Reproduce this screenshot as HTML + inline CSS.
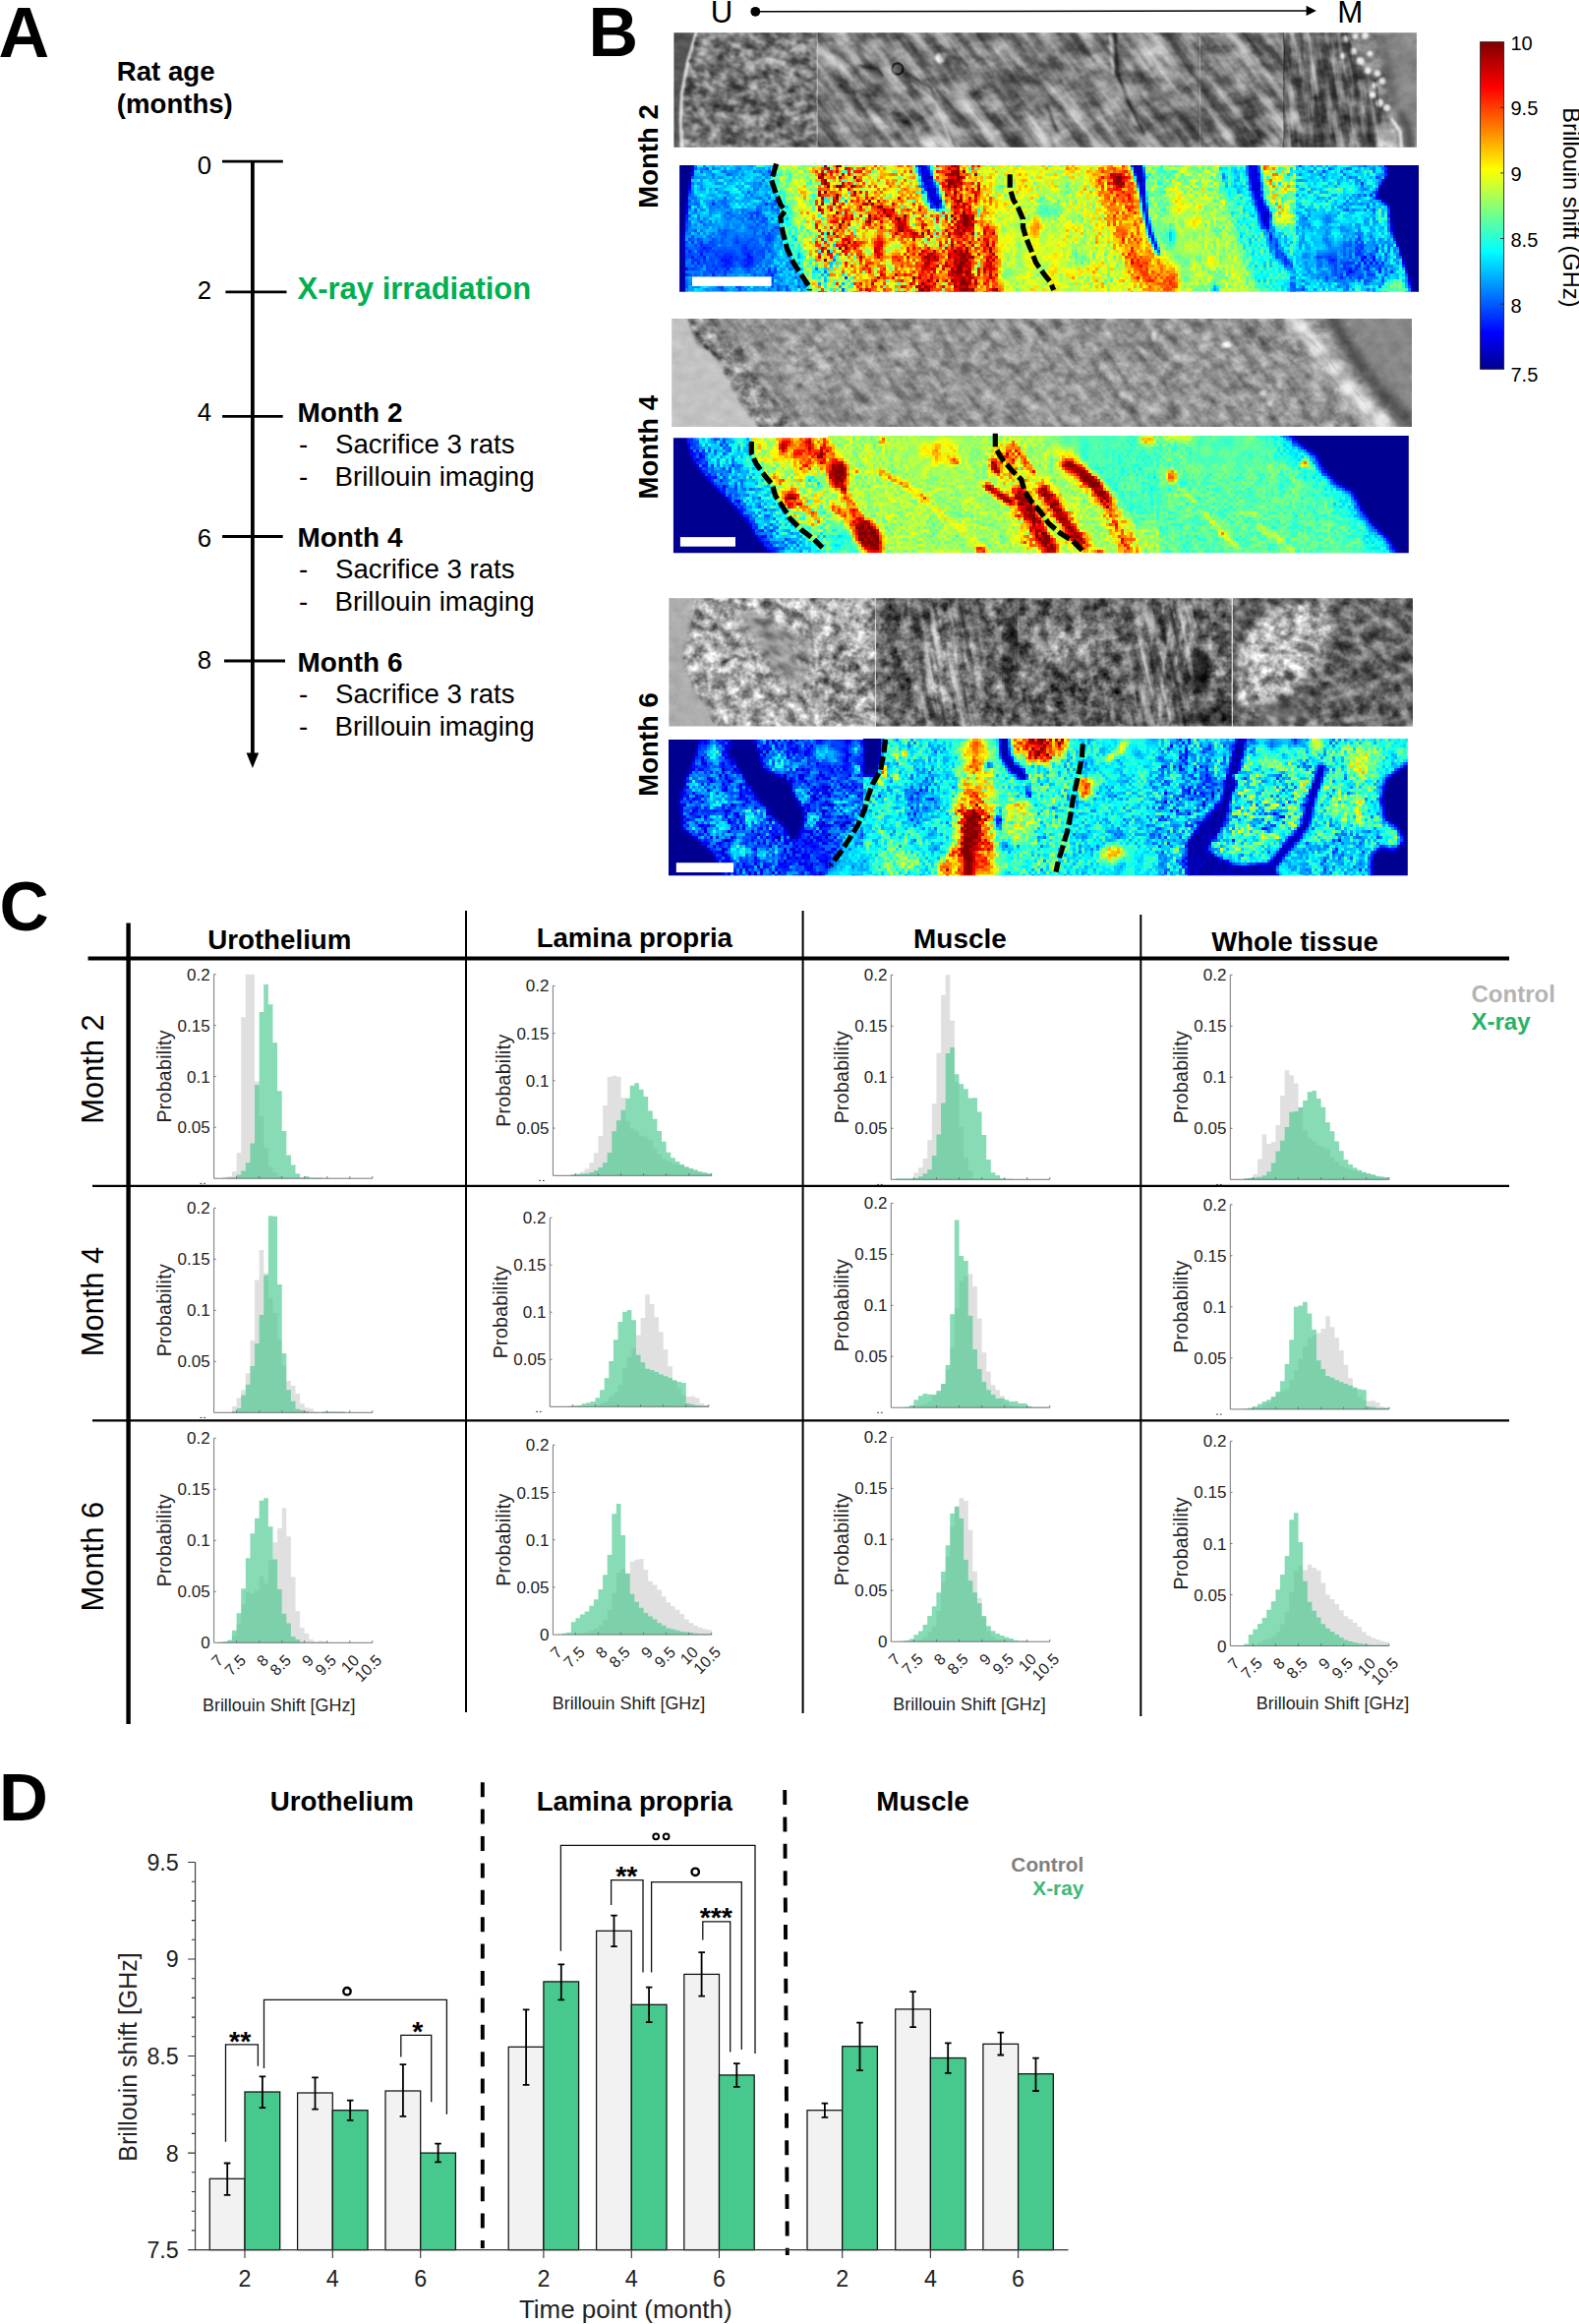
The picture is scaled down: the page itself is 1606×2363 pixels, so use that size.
<!DOCTYPE html>
<html><head><meta charset="utf-8"><title>Figure</title>
<style>html,body{margin:0;padding:0;background:#fff}svg{display:block}text{font-family:"Liberation Sans", Arial, Helvetica, sans-serif}</style>
</head><body>
<svg width="1606" height="2363" viewBox="0 0 1606 2363">
<rect width="1606" height="2363" fill="#fff"/>
<text x="-1.5" y="57.5" font-size="71.5" font-weight="bold">A</text>
<text x="598.5" y="57.3" font-size="70" font-weight="bold">B</text>
<text x="-0.5" y="945.7" font-size="69.5" font-weight="bold">C</text>
<text x="-1.0" y="1851.0" font-size="69" font-weight="bold">D</text>
<text x="118.8" y="82.0" font-size="27.6" font-weight="bold">Rat age</text>
<text x="118.8" y="115.0" font-size="27.6" font-weight="bold">(months)</text>
<line x1="256.9" y1="163.0" x2="256.9" y2="770.0" stroke="#000" stroke-width="3.8"/>
<path d="M250.6 765.5 L263.2 765.5 L256.9 781 Z" fill="#000"/>
<line x1="226.0" y1="164.2" x2="287.8" y2="164.2" stroke="#000" stroke-width="2.8"/>
<text x="215.2" y="176.7" font-size="25.8" text-anchor="end">0</text>
<line x1="229.4" y1="296.9" x2="291.5" y2="296.9" stroke="#000" stroke-width="2.8"/>
<text x="215.2" y="303.7" font-size="25.8" text-anchor="end">2</text>
<line x1="226.1" y1="423.3" x2="287.7" y2="423.3" stroke="#000" stroke-width="2.8"/>
<text x="215.2" y="428.4" font-size="25.8" text-anchor="end">4</text>
<line x1="226.1" y1="545.5" x2="287.7" y2="545.5" stroke="#000" stroke-width="2.8"/>
<text x="215.2" y="555.7" font-size="25.8" text-anchor="end">6</text>
<line x1="228.0" y1="672.0" x2="290.0" y2="672.0" stroke="#000" stroke-width="2.8"/>
<text x="215.2" y="679.7" font-size="25.8" text-anchor="end">8</text>
<text x="302.5" y="304.0" font-size="31.0" font-weight="bold" fill="#00b050">X-ray irradiation</text>
<text x="302.5" y="428.6" font-size="27.9" font-weight="bold">Month 2</text>
<text x="304.0" y="461.2" font-size="27.6">-</text>
<text x="341.0" y="461.2" font-size="27.6">Sacrifice 3 rats</text>
<text x="304.0" y="494.2" font-size="27.6">-</text>
<text x="340.5" y="494.2" font-size="27.7">Brillouin imaging</text>
<text x="302.5" y="555.6" font-size="27.9" font-weight="bold">Month 4</text>
<text x="304.0" y="588.2" font-size="27.6">-</text>
<text x="341.0" y="588.2" font-size="27.6">Sacrifice 3 rats</text>
<text x="304.0" y="621.2" font-size="27.6">-</text>
<text x="340.5" y="621.2" font-size="27.7">Brillouin imaging</text>
<text x="302.5" y="682.8" font-size="27.9" font-weight="bold">Month 6</text>
<text x="304.0" y="715.4" font-size="27.6">-</text>
<text x="341.0" y="715.4" font-size="27.6">Sacrifice 3 rats</text>
<text x="304.0" y="748.4" font-size="27.6">-</text>
<text x="340.5" y="748.4" font-size="27.7">Brillouin imaging</text>
<text x="722.8" y="22.8" font-size="31.2">U</text>
<text x="1360.3" y="22.8" font-size="31.2">M</text>
<circle cx="768.3" cy="11.8" r="4.9" fill="#000"/>
<line x1="768.0" y1="11.8" x2="1330.0" y2="11.0" stroke="#000" stroke-width="1.5"/>
<path d="M1328.6 5.8 L1338.9 10.9 L1328.6 16 Z" fill="#000"/>
<text transform="translate(668.5 159.0) rotate(-90)" font-size="27.5" font-weight="bold" text-anchor="middle">Month 2</text>
<text transform="translate(668.5 454.7) rotate(-90)" font-size="27.5" font-weight="bold" text-anchor="middle">Month 4</text>
<text transform="translate(668.5 757.0) rotate(-90)" font-size="27.5" font-weight="bold" text-anchor="middle">Month 6</text>
<defs><linearGradient id="jet" x1="0" y1="1" x2="0" y2="0"><stop offset="0" stop-color="#00008f"/><stop offset="0.11" stop-color="#0000ff"/><stop offset="0.36" stop-color="#00ffff"/><stop offset="0.61" stop-color="#ffff00"/><stop offset="0.86" stop-color="#ff0000"/><stop offset="1" stop-color="#800000"/></linearGradient></defs>
<rect x="1505.6" y="42.7" width="24" height="332.6" fill="url(#jet)" stroke="#222" stroke-width="0.9"/>
<text x="1536.5" y="51.2" font-size="20">10</text>
<text x="1536.5" y="117.2" font-size="20">9.5</text>
<text x="1536.5" y="183.8" font-size="20">9</text>
<text x="1536.5" y="250.6" font-size="20">8.5</text>
<text x="1536.5" y="317.5" font-size="20">8</text>
<text x="1536.5" y="388.2" font-size="20">7.5</text>
<line x1="1526.0" y1="109.3" x2="1529.6" y2="109.3" stroke="#222" stroke-width="0.9"/>
<line x1="1526.0" y1="175.9" x2="1529.6" y2="175.9" stroke="#222" stroke-width="0.9"/>
<line x1="1526.0" y1="242.5" x2="1529.6" y2="242.5" stroke="#222" stroke-width="0.9"/>
<line x1="1526.0" y1="309.1" x2="1529.6" y2="309.1" stroke="#222" stroke-width="0.9"/>
<text transform="translate(1589.5 109.3) rotate(90)" font-size="23.6">Brillouin shift (GHz)</text>
<defs><filter id="fb_mg1_0" x="0" y="0" width="1" height="1" color-interpolation-filters="sRGB"><feTurbulence type="fractalNoise" baseFrequency="0.1 0.13" numOctaves="2" seed="4" result="n"/><feColorMatrix in="n" type="matrix" values="0 0 0 0 1  0 0 0 0 1  0 0 0 0 1  1.5 0 0 0 -0.75" result="w"/><feColorMatrix in="n" type="matrix" values="0 0 0 0 0  0 0 0 0 0  0 0 0 0 0  -1.5 0 0 0 0.75" result="d"/><feMerge><feMergeNode in="w"/><feMergeNode in="d"/></feMerge></filter><clipPath id="fc_mg1_0"><polygon points="709.6,29.9 831.2,29.9 831.2,153.4 694.8,153.4 693.6,99.1 699.8,62.0"/></clipPath><filter id="fb_mg1_1" x="0" y="0" width="1" height="1" color-interpolation-filters="sRGB"><feTurbulence type="fractalNoise" baseFrequency="0.014 0.075" numOctaves="3" seed="8" result="n"/><feColorMatrix in="n" type="matrix" values="0 0 0 0 1  0 0 0 0 1  0 0 0 0 1  1.8 0 0 0 -0.9" result="w"/><feColorMatrix in="n" type="matrix" values="0 0 0 0 0  0 0 0 0 0  0 0 0 0 0  -1.8 0 0 0 0.9" result="d"/><feMerge><feMergeNode in="w"/><feMergeNode in="d"/></feMerge></filter><clipPath id="fc_mg1_1"><polygon points="831.2,29.9 1075.2,29.9 1305.8,29.9 1305.8,153.4 831.2,153.4"/></clipPath><filter id="fb_mg1_2" x="0" y="0" width="1" height="1" color-interpolation-filters="sRGB"><feTurbulence type="fractalNoise" baseFrequency="0.02 0.12" numOctaves="3" seed="12" result="n"/><feColorMatrix in="n" type="matrix" values="0 0 0 0 1  0 0 0 0 1  0 0 0 0 1  1.7 0 0 0 -0.85" result="w"/><feColorMatrix in="n" type="matrix" values="0 0 0 0 0  0 0 0 0 0  0 0 0 0 0  -1.7 0 0 0 0.85" result="d"/><feMerge><feMergeNode in="w"/><feMergeNode in="d"/></feMerge></filter><clipPath id="fc_mg1_2"><polygon points="1305.8,29.9 1368.7,29.9 1381.1,62.0 1403.3,86.7 1410.7,118.9 1405.8,153.4 1305.8,153.4"/></clipPath><filter id="fb_mg2_0" x="0" y="0" width="1" height="1" color-interpolation-filters="sRGB"><feTurbulence type="fractalNoise" baseFrequency="0.03 0.11" numOctaves="3" seed="5" result="n"/><feColorMatrix in="n" type="matrix" values="0 0 0 0 1  0 0 0 0 1  0 0 0 0 1  0.75 0 0 0 -0.375" result="w"/><feColorMatrix in="n" type="matrix" values="0 0 0 0 0  0 0 0 0 0  0 0 0 0 0  -0.75 0 0 0 0.375" result="d"/><feMerge><feMergeNode in="w"/><feMergeNode in="d"/></feMerge></filter><clipPath id="fc_mg2_0"><polygon points="698.5,321.2 1314.3,321.2 1413.1,437.3 773.8,437.3 756.5,413.8 741.7,389.1 729.3,364.4 707.1,347.1"/></clipPath><filter id="fb_mg3_0" x="0" y="0" width="1" height="1" color-interpolation-filters="sRGB"><feTurbulence type="fractalNoise" baseFrequency="0.07 0.1" numOctaves="2" seed="6" result="n"/><feColorMatrix in="n" type="matrix" values="0 0 0 0 1  0 0 0 0 1  0 0 0 0 1  1.1 0 0 0 -0.55" result="w"/><feColorMatrix in="n" type="matrix" values="0 0 0 0 0  0 0 0 0 0  0 0 0 0 0  -1.1 0 0 0 0.55" result="d"/><feMerge><feMergeNode in="w"/><feMergeNode in="d"/></feMerge></filter><clipPath id="fc_mg3_0"><polygon points="709.6,604.9 890.4,604.9 890.4,742.0 729.3,742.0 704.6,698.8 694.8,669.2 702.2,637.0"/></clipPath><filter id="fb_mg3_1" x="0" y="0" width="1" height="1" color-interpolation-filters="sRGB"><feTurbulence type="fractalNoise" baseFrequency="0.03 0.085" numOctaves="3" seed="7" result="n"/><feColorMatrix in="n" type="matrix" values="0 0 0 0 1  0 0 0 0 1  0 0 0 0 1  1.0 0 0 0 -0.5" result="w"/><feColorMatrix in="n" type="matrix" values="0 0 0 0 0  0 0 0 0 0  0 0 0 0 0  -1.0 0 0 0 0.5" result="d"/><feMerge><feMergeNode in="w"/><feMergeNode in="d"/></feMerge></filter><clipPath id="fc_mg3_1"><polygon points="890.4,604.9 1253.3,604.9 1253.3,742.0 890.4,742.0"/></clipPath><filter id="fb_mg3_3" x="0" y="0" width="1" height="1" color-interpolation-filters="sRGB"><feTurbulence type="fractalNoise" baseFrequency="0.012 0.11" numOctaves="3" seed="17" result="n"/><feColorMatrix in="n" type="matrix" values="0 0 0 0 1  0 0 0 0 1  0 0 0 0 1  2.0 0 0 0 -1.0" result="w"/><feColorMatrix in="n" type="matrix" values="0 0 0 0 0  0 0 0 0 0  0 0 0 0 0  -2.0 0 0 0 1.0" result="d"/><feMerge><feMergeNode in="w"/><feMergeNode in="d"/></feMerge></filter><mask id="fc_mg3_3" maskUnits="userSpaceOnUse" x="670" y="20" width="790" height="740"><polygon points="929.4,614.8 996.1,609.9 993.6,742.0 936.8,742.0" fill="#fff" filter="url(#bl6)"/></mask><filter id="fb_mg3_4" x="0" y="0" width="1" height="1" color-interpolation-filters="sRGB"><feTurbulence type="fractalNoise" baseFrequency="0.012 0.11" numOctaves="3" seed="19" result="n"/><feColorMatrix in="n" type="matrix" values="0 0 0 0 1  0 0 0 0 1  0 0 0 0 1  2.2 0 0 0 -1.1" result="w"/><feColorMatrix in="n" type="matrix" values="0 0 0 0 0  0 0 0 0 0  0 0 0 0 0  -2.2 0 0 0 1.1" result="d"/><feMerge><feMergeNode in="w"/><feMergeNode in="d"/></feMerge></filter><mask id="fc_mg3_4" maskUnits="userSpaceOnUse" x="670" y="20" width="790" height="740"><polygon points="1153.8,619.8 1225.4,614.8 1203.2,742.0 1148.9,742.0" fill="#fff" filter="url(#bl6)"/></mask><filter id="fb_mg3_2" x="0" y="0" width="1" height="1" color-interpolation-filters="sRGB"><feTurbulence type="fractalNoise" baseFrequency="0.06 0.09" numOctaves="2" seed="9" result="n"/><feColorMatrix in="n" type="matrix" values="0 0 0 0 1  0 0 0 0 1  0 0 0 0 1  1.5 0 0 0 -0.75" result="w"/><feColorMatrix in="n" type="matrix" values="0 0 0 0 0  0 0 0 0 0  0 0 0 0 0  -1.5 0 0 0 0.75" result="d"/><feMerge><feMergeNode in="w"/><feMergeNode in="d"/></feMerge></filter><clipPath id="fc_mg3_2"><polygon points="1253.3,604.9 1440.3,604.9 1440.3,742.0 1253.3,742.0"/></clipPath><filter id="f_mg1" x="682" y="30" width="764" height="125" filterUnits="userSpaceOnUse" color-interpolation-filters="sRGB"><feGaussianBlur in="SourceGraphic" stdDeviation="0.7" result="b"/><feTurbulence type="fractalNoise" baseFrequency="0.045 0.07" numOctaves="3" seed="11"/><feColorMatrix type="matrix" values="1 0 0 0 0  1 0 0 0 0  1 0 0 0 0  0 0 0 0 1" result="n1"/><feTurbulence type="fractalNoise" baseFrequency="0.22" numOctaves="1" seed="16"/><feColorMatrix type="matrix" values="1 0 0 0 0  1 0 0 0 0  1 0 0 0 0  0 0 0 0 1" result="n2"/><feComposite in="n1" in2="n2" operator="arithmetic" k1="0" k2="1.0" k3="0.22" k4="-0.110" result="N"/><feColorMatrix in="b" type="matrix" values=".5 -.5 0 0 .25  .5 -.5 0 0 .25  .5 -.5 0 0 .25  0 0 0 0 1" result="A"/><feColorMatrix in="b" type="matrix" values="0 1 0 0 0  0 1 0 0 0  0 1 0 0 0  0 0 0 0 1" result="M"/><feComposite in="M" in2="N" operator="arithmetic" k1="1" k2="0" k3="0" k4="0" result="T1"/><feComposite in="A" in2="T1" operator="arithmetic" k1="0" k2="1" k3="1" k4="0" result="S"/><feGaussianBlur in="S" stdDeviation="0.45" result="S2"/><feColorMatrix in="S2" type="matrix" values="2 0 0 0 -.5  2 0 0 0 -.5  2 0 0 0 -.5  0 0 0 0 1"/></filter><clipPath id="c_mg1"><path d="M685.4 33.2H1440.9V149.8H685.4Z"/></clipPath><filter id="f_hm1" x="688" y="164" width="760" height="137" filterUnits="userSpaceOnUse" color-interpolation-filters="sRGB"><feGaussianBlur in="SourceGraphic" stdDeviation="0.8" result="b"/><feTurbulence type="fractalNoise" baseFrequency="0.34" numOctaves="1" seed="3"/><feColorMatrix type="matrix" values="1 0 0 0 0  1 0 0 0 0  1 0 0 0 0  0 0 0 0 1" result="n1"/><feTurbulence type="fractalNoise" baseFrequency="0.09 0.07" numOctaves="2" seed="10"/><feColorMatrix type="matrix" values="1 0 0 0 0  1 0 0 0 0  1 0 0 0 0  0 0 0 0 1" result="n2"/><feComposite in="n1" in2="n2" operator="arithmetic" k1="0" k2="0.72" k3="0.42" k4="-0.07" result="N"/><feColorMatrix in="b" type="matrix" values=".5 -.7 0 0 .25  .5 -.7 0 0 .25  .5 -.7 0 0 .25  0 0 0 0 1" result="A"/><feColorMatrix in="b" type="matrix" values="0 1 0 0 0  0 1 0 0 0  0 1 0 0 0  0 0 0 0 1" result="M"/><feComposite in="M" in2="N" operator="arithmetic" k1="1.4" k2="0" k3="0" k4="0" result="T1"/><feComposite in="A" in2="T1" operator="arithmetic" k1="0" k2="1" k3="1" k4="0" result="S"/><feFlood x="689" y="165" width="1" height="1" flood-color="#000" result="dot"/><feComposite in="dot" in2="dot" operator="over" x="688" y="164" width="3" height="3" result="tile"/><feTile in="tile" result="grid"/><feComposite in="S" in2="grid" operator="in" result="samp"/><feMorphology in="samp" operator="dilate" radius="1" result="pix"/><feComponentTransfer in="pix"><feFuncR type="table" tableValues="0 0 0 0 0 0 0 0 .5 1 1 1 .5 .5 .5 .5 .5"/><feFuncG type="table" tableValues="0 0 0 0 0 0 .5 1 1 1 .5 0 0 0 0 0 0"/><feFuncB type="table" tableValues=".56 .56 .56 .56 .56 1 1 1 .5 0 0 0 0 0 0 0 0"/></feComponentTransfer></filter><clipPath id="c_hm1"><path d="M691.1 167.9H1443V296.7H691.1Z"/></clipPath><filter id="f_mg2" x="680" y="321" width="761" height="118" filterUnits="userSpaceOnUse" color-interpolation-filters="sRGB"><feGaussianBlur in="SourceGraphic" stdDeviation="0.7" result="b"/><feTurbulence type="fractalNoise" baseFrequency="0.075 0.095" numOctaves="3" seed="21"/><feColorMatrix type="matrix" values="1 0 0 0 0  1 0 0 0 0  1 0 0 0 0  0 0 0 0 1" result="n1"/><feTurbulence type="fractalNoise" baseFrequency="0.25" numOctaves="1" seed="26"/><feColorMatrix type="matrix" values="1 0 0 0 0  1 0 0 0 0  1 0 0 0 0  0 0 0 0 1" result="n2"/><feComposite in="n1" in2="n2" operator="arithmetic" k1="0" k2="1.0" k3="0.25" k4="-0.125" result="N"/><feColorMatrix in="b" type="matrix" values=".5 -.5 0 0 .25  .5 -.5 0 0 .25  .5 -.5 0 0 .25  0 0 0 0 1" result="A"/><feColorMatrix in="b" type="matrix" values="0 1 0 0 0  0 1 0 0 0  0 1 0 0 0  0 0 0 0 1" result="M"/><feComposite in="M" in2="N" operator="arithmetic" k1="1" k2="0" k3="0" k4="0" result="T1"/><feComposite in="A" in2="T1" operator="arithmetic" k1="0" k2="1" k3="1" k4="0" result="S"/><feGaussianBlur in="S" stdDeviation="0.45" result="S2"/><feColorMatrix in="S2" type="matrix" values="2 0 0 0 -.5  2 0 0 0 -.5  2 0 0 0 -.5  0 0 0 0 1"/></filter><clipPath id="c_mg2"><path d="M683.2 324H1436V434H683.2Z"/></clipPath><filter id="f_hm2" x="681" y="439" width="756" height="128" filterUnits="userSpaceOnUse" color-interpolation-filters="sRGB"><feGaussianBlur in="SourceGraphic" stdDeviation="0.8" result="b"/><feTurbulence type="fractalNoise" baseFrequency="0.34" numOctaves="1" seed="5"/><feColorMatrix type="matrix" values="1 0 0 0 0  1 0 0 0 0  1 0 0 0 0  0 0 0 0 1" result="n1"/><feTurbulence type="fractalNoise" baseFrequency="0.09 0.07" numOctaves="2" seed="12"/><feColorMatrix type="matrix" values="1 0 0 0 0  1 0 0 0 0  1 0 0 0 0  0 0 0 0 1" result="n2"/><feComposite in="n1" in2="n2" operator="arithmetic" k1="0" k2="0.72" k3="0.42" k4="-0.07" result="N"/><feColorMatrix in="b" type="matrix" values=".5 -.7 0 0 .25  .5 -.7 0 0 .25  .5 -.7 0 0 .25  0 0 0 0 1" result="A"/><feColorMatrix in="b" type="matrix" values="0 1 0 0 0  0 1 0 0 0  0 1 0 0 0  0 0 0 0 1" result="M"/><feComposite in="M" in2="N" operator="arithmetic" k1="1.4" k2="0" k3="0" k4="0" result="T1"/><feComposite in="A" in2="T1" operator="arithmetic" k1="0" k2="1" k3="1" k4="0" result="S"/><feFlood x="682" y="440" width="1" height="1" flood-color="#000" result="dot"/><feComposite in="dot" in2="dot" operator="over" x="681" y="439" width="3" height="3" result="tile"/><feTile in="tile" result="grid"/><feComposite in="S" in2="grid" operator="in" result="samp"/><feMorphology in="samp" operator="dilate" radius="1" result="pix"/><feComponentTransfer in="pix"><feFuncR type="table" tableValues="0 0 0 0 0 0 0 0 .5 1 1 1 .5 .5 .5 .5 .5"/><feFuncG type="table" tableValues="0 0 0 0 0 0 .5 1 1 1 .5 0 0 0 0 0 0"/><feFuncB type="table" tableValues=".56 .56 .56 .56 .56 1 1 1 .5 0 0 0 0 0 0 0 0"/></feComponentTransfer></filter><clipPath id="c_hm2"><path d="M684.9 445.2H842.2V442.9H1432.8V562.3H684.9Z"/></clipPath><filter id="f_mg3" x="677" y="605" width="765" height="139" filterUnits="userSpaceOnUse" color-interpolation-filters="sRGB"><feGaussianBlur in="SourceGraphic" stdDeviation="0.7" result="b"/><feTurbulence type="fractalNoise" baseFrequency="0.085 0.095" numOctaves="3" seed="31"/><feColorMatrix type="matrix" values="1 0 0 0 0  1 0 0 0 0  1 0 0 0 0  0 0 0 0 1" result="n1"/><feTurbulence type="fractalNoise" baseFrequency="0.3" numOctaves="1" seed="36"/><feColorMatrix type="matrix" values="1 0 0 0 0  1 0 0 0 0  1 0 0 0 0  0 0 0 0 1" result="n2"/><feComposite in="n1" in2="n2" operator="arithmetic" k1="0" k2="1.0" k3="0.3" k4="-0.150" result="N"/><feColorMatrix in="b" type="matrix" values=".5 -.5 0 0 .25  .5 -.5 0 0 .25  .5 -.5 0 0 .25  0 0 0 0 1" result="A"/><feColorMatrix in="b" type="matrix" values="0 1 0 0 0  0 1 0 0 0  0 1 0 0 0  0 0 0 0 1" result="M"/><feComposite in="M" in2="N" operator="arithmetic" k1="1" k2="0" k3="0" k4="0" result="T1"/><feComposite in="A" in2="T1" operator="arithmetic" k1="0" k2="1" k3="1" k4="0" result="S"/><feGaussianBlur in="S" stdDeviation="0.45" result="S2"/><feColorMatrix in="S2" type="matrix" values="2 0 0 0 -.5  2 0 0 0 -.5  2 0 0 0 -.5  0 0 0 0 1"/></filter><clipPath id="c_mg3"><path d="M680.4 608.2H1437V738.4H680.4Z"/></clipPath><filter id="f_hm3" x="677" y="748" width="760" height="148" filterUnits="userSpaceOnUse" color-interpolation-filters="sRGB"><feGaussianBlur in="SourceGraphic" stdDeviation="0.8" result="b"/><feTurbulence type="fractalNoise" baseFrequency="0.34" numOctaves="1" seed="9"/><feColorMatrix type="matrix" values="1 0 0 0 0  1 0 0 0 0  1 0 0 0 0  0 0 0 0 1" result="n1"/><feTurbulence type="fractalNoise" baseFrequency="0.09 0.07" numOctaves="2" seed="16"/><feColorMatrix type="matrix" values="1 0 0 0 0  1 0 0 0 0  1 0 0 0 0  0 0 0 0 1" result="n2"/><feComposite in="n1" in2="n2" operator="arithmetic" k1="0" k2="0.72" k3="0.42" k4="-0.07" result="N"/><feColorMatrix in="b" type="matrix" values=".5 -.7 0 0 .25  .5 -.7 0 0 .25  .5 -.7 0 0 .25  0 0 0 0 1" result="A"/><feColorMatrix in="b" type="matrix" values="0 1 0 0 0  0 1 0 0 0  0 1 0 0 0  0 0 0 0 1" result="M"/><feComposite in="M" in2="N" operator="arithmetic" k1="1.4" k2="0" k3="0" k4="0" result="T1"/><feComposite in="A" in2="T1" operator="arithmetic" k1="0" k2="1" k3="1" k4="0" result="S"/><feFlood x="678" y="749" width="1" height="1" flood-color="#000" result="dot"/><feComposite in="dot" in2="dot" operator="over" x="677" y="748" width="3" height="3" result="tile"/><feTile in="tile" result="grid"/><feComposite in="S" in2="grid" operator="in" result="samp"/><feMorphology in="samp" operator="dilate" radius="1" result="pix"/><feComponentTransfer in="pix"><feFuncR type="table" tableValues="0 0 0 0 0 0 0 0 .5 1 1 1 .5 .5 .5 .5 .5"/><feFuncG type="table" tableValues="0 0 0 0 0 0 .5 1 1 1 .5 0 0 0 0 0 0"/><feFuncB type="table" tableValues=".56 .56 .56 .56 .56 1 1 1 .5 0 0 0 0 0 0 0 0"/></feComponentTransfer></filter><clipPath id="c_hm3"><path d="M680 751.9H877.9V751H1431.8V890.3H680Z"/></clipPath><filter id="bl0_8" x="-50%" y="-50%" width="200%" height="200%" color-interpolation-filters="sRGB"><feGaussianBlur stdDeviation="0.8"/></filter><filter id="bl1" x="-50%" y="-50%" width="200%" height="200%" color-interpolation-filters="sRGB"><feGaussianBlur stdDeviation="1"/></filter><filter id="bl1_2" x="-50%" y="-50%" width="200%" height="200%" color-interpolation-filters="sRGB"><feGaussianBlur stdDeviation="1.2"/></filter><filter id="bl1_5" x="-50%" y="-50%" width="200%" height="200%" color-interpolation-filters="sRGB"><feGaussianBlur stdDeviation="1.5"/></filter><filter id="bl2" x="-50%" y="-50%" width="200%" height="200%" color-interpolation-filters="sRGB"><feGaussianBlur stdDeviation="2"/></filter><filter id="bl2_5" x="-50%" y="-50%" width="200%" height="200%" color-interpolation-filters="sRGB"><feGaussianBlur stdDeviation="2.5"/></filter><filter id="bl3" x="-50%" y="-50%" width="200%" height="200%" color-interpolation-filters="sRGB"><feGaussianBlur stdDeviation="3"/></filter><filter id="bl4" x="-50%" y="-50%" width="200%" height="200%" color-interpolation-filters="sRGB"><feGaussianBlur stdDeviation="4"/></filter><filter id="bl5" x="-50%" y="-50%" width="200%" height="200%" color-interpolation-filters="sRGB"><feGaussianBlur stdDeviation="5"/></filter><filter id="bl6" x="-50%" y="-50%" width="200%" height="200%" color-interpolation-filters="sRGB"><feGaussianBlur stdDeviation="6"/></filter><filter id="bl7" x="-50%" y="-50%" width="200%" height="200%" color-interpolation-filters="sRGB"><feGaussianBlur stdDeviation="7"/></filter><filter id="bl8" x="-50%" y="-50%" width="200%" height="200%" color-interpolation-filters="sRGB"><feGaussianBlur stdDeviation="8"/></filter><filter id="bl10" x="-50%" y="-50%" width="200%" height="200%" color-interpolation-filters="sRGB"><feGaussianBlur stdDeviation="10"/></filter></defs><g clip-path="url(#c_mg1)"><g filter="url(#f_mg1)"><rect x="675.0" y="25.0" width="775.0" height="135.0" fill="rgb(124,71,0)"/><polygon points="707.2,29.9 831.2,29.9 831.2,153.4 692.3,153.4 692.3,99.1 698.5,62.0" fill="rgb(118,76,0)"/><ellipse cx="803.5" cy="62.0" rx="22" ry="22" fill="rgb(134,76,0)" filter="url(#bl8)"/><ellipse cx="741.7" cy="99.1" rx="25" ry="20" fill="rgb(106,76,0)" filter="url(#bl8)"/><polygon points="831.2,29.9 1075.2,29.9 1075.2,153.4 831.2,153.4" fill="rgb(125,71,0)"/><ellipse cx="867.7" cy="49.7" rx="35" ry="15" fill="rgb(150,71,0)" filter="url(#bl8)"/><polyline points="852.9,86.7 902.3,106.5 939.3,131.2" fill="none" stroke="rgb(82,102,0)" stroke-width="10" stroke-linecap="round" stroke-linejoin="round" filter="url(#bl4)"/><polyline points="865.2,111.4 914.6,136.1" fill="none" stroke="rgb(168,102,0)" stroke-width="8" stroke-linecap="round" stroke-linejoin="round" filter="url(#bl4)"/><polyline points="976.4,49.7 1001.1,99.1 1025.8,143.6" fill="none" stroke="rgb(105,102,0)" stroke-width="12" stroke-linecap="round" stroke-linejoin="round" filter="url(#bl5)"/><ellipse cx="1013.4" cy="86.7" rx="30" ry="25" fill="rgb(118,76,0)" filter="url(#bl8)"/><polyline points="872.7,67.0 892.4,69.5 897.4,76.9" fill="none" stroke="rgb(50,26,0)" stroke-width="2.5" stroke-linecap="round" stroke-linejoin="round" filter="url(#bl1)"/><polyline points="922.1,74.4 946.8,89.2 959.1,123.8 971.5,148.5" fill="none" stroke="rgb(60,26,0)" stroke-width="2.2" stroke-linecap="round" stroke-linejoin="round" filter="url(#bl1)"/><polyline points="927.0,84.3 951.7,104.0 966.5,143.6" fill="none" stroke="rgb(190,26,0)" stroke-width="2" stroke-linecap="round" stroke-linejoin="round" filter="url(#bl1)"/><ellipse cx="948.0" cy="143.6" rx="10" ry="8" fill="rgb(220,51,0)" filter="url(#bl3)"/><circle cx="912.9" cy="70.0" r="5.6" fill="rgb(112,26,0)" stroke="rgb(35,26,0)" stroke-width="2.2"/><ellipse cx="956.6" cy="58.8" rx="5.2" ry="5.2" fill="rgb(250,13,0)" filter="url(#bl1)"/><polyline points="831.2,29.9 831.2,153.4" fill="none" stroke="rgb(195,26,0)" stroke-width="1" stroke-linecap="round" stroke-linejoin="round"/><polyline points="1220.5,29.9 1220.5,153.4" fill="none" stroke="rgb(165,26,0)" stroke-width="1" stroke-linecap="round" stroke-linejoin="round"/><polyline points="1134.1,33.2 1136.6,74.4 1148.9,106.5 1163.7,136.1" fill="none" stroke="rgb(48,38,0)" stroke-width="3" stroke-linecap="round" stroke-linejoin="round" filter="url(#bl1)"/><polyline points="1129.2,34.9 1132.1,74.4" fill="none" stroke="rgb(195,38,0)" stroke-width="3" stroke-linecap="round" stroke-linejoin="round" filter="url(#bl1_2)"/><polyline points="1064.9,106.5 1074.8,133.7" fill="none" stroke="rgb(55,38,0)" stroke-width="3" stroke-linecap="round" stroke-linejoin="round" filter="url(#bl1_2)"/><ellipse cx="1269.9" cy="123.8" rx="22" ry="26" fill="rgb(84,76,0)" filter="url(#bl8)"/><ellipse cx="1178.6" cy="54.6" rx="20" ry="14" fill="rgb(145,76,0)" filter="url(#bl6)"/><polygon points="1305.8,29.9 1368.7,29.9 1381.1,62.0 1403.3,86.7 1410.7,118.9 1405.8,153.4 1305.8,153.4" fill="rgb(100,76,0)"/><ellipse cx="1351.5" cy="106.5" rx="22" ry="26" fill="rgb(72,76,0)" filter="url(#bl8)"/><ellipse cx="1344.0" cy="143.6" rx="16" ry="8" fill="rgb(58,76,0)" filter="url(#bl5)"/><ellipse cx="1326.8" cy="54.6" rx="18" ry="14" fill="rgb(112,76,0)" filter="url(#bl6)"/><polyline points="1305.8,29.9 1305.8,153.4" fill="none" stroke="rgb(60,26,0)" stroke-width="1" stroke-linecap="round" stroke-linejoin="round"/><polygon points="1398.4,29.9 1445.3,29.9 1445.3,153.4 1425.5,153.4 1420.6,123.8 1415.7,106.5 1410.7,74.4 1405.8,49.7" fill="rgb(133,26,0)" filter="url(#bl2_5)"/><polyline points="1405.8,39.8 1413.2,74.4 1418.1,106.5" fill="none" stroke="rgb(98,26,0)" stroke-width="5" stroke-linecap="round" stroke-linejoin="round" filter="url(#bl3)"/><ellipse cx="1368.7" cy="39.8" rx="3.5" ry="3.5" fill="rgb(238,26,0)" filter="url(#bl1)"/><ellipse cx="1378.6" cy="36.9" rx="3" ry="3" fill="rgb(238,26,0)" filter="url(#bl1)"/><ellipse cx="1388.5" cy="36.1" rx="3.5" ry="3.5" fill="rgb(238,26,0)" filter="url(#bl1)"/><ellipse cx="1376.2" cy="52.2" rx="3.5" ry="3.5" fill="rgb(238,26,0)" filter="url(#bl1)"/><ellipse cx="1383.6" cy="62.0" rx="4" ry="4" fill="rgb(238,26,0)" filter="url(#bl1)"/><ellipse cx="1391.0" cy="71.9" rx="3.5" ry="3.5" fill="rgb(238,26,0)" filter="url(#bl1)"/><ellipse cx="1400.9" cy="74.4" rx="3.5" ry="3.5" fill="rgb(238,26,0)" filter="url(#bl1)"/><ellipse cx="1398.4" cy="86.7" rx="3" ry="3" fill="rgb(238,26,0)" filter="url(#bl1)"/><ellipse cx="1405.8" cy="82.3" rx="3.5" ry="3.5" fill="rgb(238,26,0)" filter="url(#bl1)"/><ellipse cx="1395.9" cy="96.6" rx="3" ry="3" fill="rgb(238,26,0)" filter="url(#bl1)"/><ellipse cx="1403.3" cy="104.5" rx="4" ry="4" fill="rgb(238,26,0)" filter="url(#bl1)"/><ellipse cx="1410.7" cy="109.5" rx="3.5" ry="3.5" fill="rgb(238,26,0)" filter="url(#bl1)"/><ellipse cx="1366.3" cy="57.1" rx="3" ry="3" fill="rgb(238,26,0)" filter="url(#bl1)"/><ellipse cx="1393.4" cy="54.6" rx="3" ry="3" fill="rgb(238,26,0)" filter="url(#bl1)"/><ellipse cx="1413.2" cy="136.1" rx="14" ry="18" fill="rgb(150,76,0)" filter="url(#bl3)"/><polyline points="1415.7,121.3 1424.3,133.7 1425.5,149.7" fill="none" stroke="rgb(242,13,0)" stroke-width="3" stroke-linecap="round" stroke-linejoin="round" filter="url(#bl1)"/><polyline points="1425.5,116.4 1433.0,133.7 1434.2,151.0" fill="none" stroke="rgb(60,13,0)" stroke-width="6" stroke-linecap="round" stroke-linejoin="round" filter="url(#bl3)"/><polygon points="682.5,29.9 707.2,29.9 698.5,62.0 692.3,99.1 691.1,153.4 682.5,153.4" fill="rgb(86,31,0)" filter="url(#bl1)"/><polyline points="708.4,33.2 699.8,62.0 693.6,94.2 692.3,123.8 693.6,149.7" fill="none" stroke="rgb(245,13,0)" stroke-width="2.6" stroke-linecap="round" stroke-linejoin="round" filter="url(#bl0_8)"/></g><g clip-path="url(#fc_mg1_0)"><rect x="673" y="-2" width="186" height="186" transform="rotate(20 766 92)" filter="url(#fb_mg1_0)"/></g><g clip-path="url(#fc_mg1_1)"><rect x="819" y="-158" width="499" height="499" transform="rotate(52 1068 92)" filter="url(#fb_mg1_1)"/></g><g clip-path="url(#fc_mg1_2)"><rect x="1275" y="8" width="167" height="167" transform="rotate(82 1358 92)" filter="url(#fb_mg1_2)"/></g></g><g clip-path="url(#c_hm1)"><g filter="url(#f_hm1)"><rect x="680.0" y="160.0" width="775.0" height="145.0" fill="rgb(143,36,0)"/><polygon points="689.1,166.6 789.6,166.6 784.6,183.1 787.9,192.9 793.7,207.8 798.6,214.3 793.7,220.9 795.7,234.1 800.3,252.2 806.9,267.0 816.7,281.9 823.3,291.7 824.1,299.1 689.1,299.1" fill="rgb(71,46,0)" filter="url(#bl1_5)"/><ellipse cx="739.3" cy="188.0" rx="38" ry="14" fill="rgb(82,36,0)" filter="url(#bl7)"/><ellipse cx="734.4" cy="262.1" rx="42" ry="20" fill="rgb(49,36,0)" filter="url(#bl8)"/><ellipse cx="770.6" cy="242.3" rx="12" ry="22" fill="rgb(51,36,0)" filter="url(#bl6)"/><polygon points="824.1,299.1 823.3,291.7 816.7,281.9 806.9,267.0 800.3,252.2 795.7,234.1 793.7,220.9 798.6,214.3 793.7,207.8 787.9,192.9 784.6,183.1 789.6,166.6 830.7,299.1 830.7,166.6" fill="rgb(102,51,0)" filter="url(#bl2)"/><polygon points="815.1,166.6 830.7,166.6 830.7,299.1 826.6,299.1 820.0,258.8 815.1,209.4" fill="rgb(148,76,0)" filter="url(#bl4)"/><ellipse cx="800.3" cy="179.8" rx="7" ry="9" fill="rgb(128,51,0)" filter="url(#bl3)"/><polygon points="830.7,164.9 948.5,164.9 948.5,300.0 830.7,300.0" fill="rgb(184,158,0)"/><polygon points="874.4,164.9 935.3,164.9 941.9,201.2 899.1,206.1 874.4,184.7" fill="rgb(165,76,0)" filter="url(#bl4)"/><ellipse cx="851.3" cy="282.7" rx="22" ry="13" fill="rgb(128,128,0)" filter="url(#bl5)"/><ellipse cx="835.7" cy="275.3" rx="6" ry="6" fill="rgb(66,51,0)" filter="url(#bl3)"/><polyline points="894.1,209.4 915.5,225.9 941.9,252.2" fill="none" stroke="rgb(250,64,0)" stroke-width="8" stroke-linecap="round" stroke-linejoin="round" filter="url(#bl2)"/><polygon points="930.3,253.9 948.5,245.6 948.5,300.0 938.6,300.0" fill="rgb(224,76,0)" filter="url(#bl3)"/><polygon points="931.7,164.9 998.1,164.9 998.1,300.0 931.7,300.0" fill="rgb(173,128,0)"/><polygon points="933.4,252.2 951.5,252.2 955.6,300.0 933.4,300.0" fill="rgb(230,76,0)" filter="url(#bl3)"/><polyline points="965.5,163.3 971.2,184.7 982.8,225.9 974.5,262.1 981.1,300.0" fill="none" stroke="rgb(214,76,0)" stroke-width="24" stroke-linecap="round" stroke-linejoin="round" filter="url(#bl3)"/><ellipse cx="969.6" cy="181.4" rx="6" ry="11" fill="rgb(255,38,0)" filter="url(#bl2_5)"/><ellipse cx="982.8" cy="225.9" rx="7" ry="11" fill="rgb(255,38,0)" filter="url(#bl2_5)"/><polygon points="966.3,250.6 986.0,250.6 990.2,300.0 969.6,300.0" fill="rgb(247,46,0)" filter="url(#bl3)"/><polyline points="937.5,163.3 943.2,184.7 953.1,207.8" fill="none" stroke="rgb(22,26,0)" stroke-width="15" stroke-linecap="round" stroke-linejoin="round" filter="url(#bl2)"/><polygon points="998.1,164.9 1198.5,164.9 1198.5,300.0 998.1,300.0" fill="rgb(148,51,0)"/><polygon points="998.1,174.8 1009.1,179.8 1012.4,229.2 998.1,229.2" fill="rgb(173,64,0)" filter="url(#bl3)"/><polygon points="998.1,225.9 1012.4,229.2 1018.2,300.0 998.1,300.0" fill="rgb(219,76,0)" filter="url(#bl2_5)"/><ellipse cx="1066.7" cy="212.7" rx="15" ry="9" fill="rgb(112,31,0)" filter="url(#bl5)"/><ellipse cx="1037.1" cy="232.5" rx="5" ry="6" fill="rgb(107,31,0)" filter="url(#bl3)"/><ellipse cx="1099.7" cy="262.1" rx="11" ry="6" fill="rgb(112,31,0)" filter="url(#bl4)"/><ellipse cx="1027.2" cy="278.6" rx="11" ry="8" fill="rgb(128,31,0)" filter="url(#bl4)"/><ellipse cx="1083.2" cy="192.9" rx="10" ry="6" fill="rgb(117,31,0)" filter="url(#bl4)"/><ellipse cx="1052.7" cy="230.8" rx="5.5" ry="12" fill="rgb(189,38,0)" filter="url(#bl2)"/><ellipse cx="1040.4" cy="181.4" rx="6" ry="8" fill="rgb(173,38,0)" filter="url(#bl3)"/><ellipse cx="1091.4" cy="169.9" rx="9" ry="4" fill="rgb(194,38,0)" filter="url(#bl2)"/><ellipse cx="1076.6" cy="262.1" rx="8" ry="5" fill="rgb(168,38,0)" filter="url(#bl3)"/><ellipse cx="1111.2" cy="275.3" rx="7" ry="5" fill="rgb(173,38,0)" filter="url(#bl3)"/><polygon points="1112.8,164.9 1149.1,164.9 1158.9,201.2 1165.5,242.3 1182.0,267.0 1198.5,275.3 1198.5,300.0 1154.0,300.0 1142.5,258.8 1124.4,225.9 1114.5,192.9" fill="rgb(190,61,0)" filter="url(#bl4)"/><ellipse cx="1137.5" cy="183.1" rx="7" ry="9" fill="rgb(255,31,0)" filter="url(#bl2)"/><ellipse cx="1149.1" cy="198.7" rx="5" ry="9" fill="rgb(224,38,0)" filter="url(#bl2)"/><ellipse cx="1160.6" cy="268.7" rx="7" ry="7" fill="rgb(209,38,0)" filter="url(#bl3)"/><polygon points="1165.5,164.9 1198.5,164.9 1198.5,258.8 1182.0,252.2 1170.5,225.9" fill="rgb(122,46,0)" filter="url(#bl3)"/><polygon points="1149.1,164.9 1163.1,164.9 1165.5,192.9 1167.2,214.3 1170.5,230.8 1178.7,252.2 1181.2,260.4 1177.1,258.8 1167.2,237.4 1162.2,214.3 1157.3,189.6" fill="rgb(8,10,0)" filter="url(#bl1)"/><polygon points="1183.4,164.9 1241.0,164.9 1250.9,300.0 1201.5,300.0 1194.9,258.8" fill="rgb(135,51,0)" filter="url(#bl4)"/><ellipse cx="1199.8" cy="206.1" rx="8" ry="14" fill="rgb(168,38,0)" filter="url(#bl4)"/><ellipse cx="1214.6" cy="225.9" rx="6" ry="7" fill="rgb(173,38,0)" filter="url(#bl3)"/><ellipse cx="1231.1" cy="267.0" rx="8" ry="6" fill="rgb(163,38,0)" filter="url(#bl3)"/><ellipse cx="1188.3" cy="290.1" rx="10" ry="12" fill="rgb(204,38,0)" filter="url(#bl3)"/><ellipse cx="1191.6" cy="239.0" rx="3" ry="8" fill="rgb(71,31,0)" filter="url(#bl2)"/><polygon points="1239.3,164.9 1270.6,164.9 1290.4,217.6 1303.6,258.8 1316.7,300.0 1277.2,300.0 1259.1,242.3 1247.6,209.4" fill="rgb(102,41,0)" filter="url(#bl4)"/><polyline points="1242.6,169.9 1247.6,192.9" fill="none" stroke="rgb(56,26,0)" stroke-width="2.5" stroke-linecap="round" stroke-linejoin="round" filter="url(#bl1)"/><polyline points="1255.8,173.2 1259.1,186.3" fill="none" stroke="rgb(56,26,0)" stroke-width="2.5" stroke-linecap="round" stroke-linejoin="round" filter="url(#bl1)"/><ellipse cx="1236.0" cy="293.4" rx="4" ry="3" fill="rgb(46,26,0)" filter="url(#bl1_5)"/><polygon points="1282.2,164.9 1317.6,164.9 1317.6,225.9 1300.3,222.6 1290.4,201.2" fill="rgb(138,97,0)" filter="url(#bl2)"/><ellipse cx="1290.4" cy="170.7" rx="7" ry="3" fill="rgb(214,76,0)" filter="url(#bl1_5)"/><ellipse cx="1306.9" cy="194.6" rx="4" ry="2.5" fill="rgb(204,76,0)" filter="url(#bl1_5)"/><polygon points="1290.4,230.8 1317.6,229.2 1317.6,300.0 1315.1,300.0 1313.4,275.3 1300.3,258.8" fill="rgb(94,64,0)" filter="url(#bl3)"/><polyline points="1288.7,230.8 1300.3,258.8 1315.1,275.3 1316.7,300.0" fill="none" stroke="rgb(51,38,0)" stroke-width="9" stroke-linecap="round" stroke-linejoin="round" filter="url(#bl2)"/><polygon points="1267.3,164.9 1281.3,164.9 1285.4,201.2 1293.7,217.6 1290.4,234.1 1283.8,232.5 1277.2,209.4 1270.6,189.6" fill="rgb(22,20,0)" filter="url(#bl1_5)"/><polygon points="1317.6,164.9 1448.5,164.9 1448.5,300.0 1317.6,300.0" fill="rgb(82,56,0)"/><ellipse cx="1374.4" cy="267.0" rx="36" ry="20" fill="rgb(53,56,0)" filter="url(#bl8)"/><ellipse cx="1349.7" cy="192.9" rx="32" ry="15" fill="rgb(94,56,0)" filter="url(#bl8)"/><ellipse cx="1418.8" cy="292.6" rx="11" ry="8" fill="rgb(128,38,0)" filter="url(#bl2)"/><polygon points="688.3,164.9 707.2,164.9 703.1,184.7 699.0,209.4 696.5,242.3 697.3,300.0 688.3,300.0" fill="rgb(0,0,0)" filter="url(#bl1)"/><polygon points="1407.3,164.9 1410.6,176.5 1400.7,192.9 1399.1,201.2 1412.2,209.4 1413.9,225.9 1415.5,239.0 1422.1,252.2 1427.1,267.0 1432.0,281.9 1435.3,300.0 1448.5,300.0 1448.5,164.9" fill="rgb(0,0,0)" filter="url(#bl1_2)"/></g></g><polyline points="789.6,166.6 784.6,183.1 787.9,192.9 793.7,207.8 798.6,214.3 793.7,220.9 795.7,234.1 800.3,252.2 806.9,267.0 816.7,281.9 823.3,291.7 823.0,295.4" fill="none" stroke="#000" stroke-width="5.2" stroke-dasharray="13.5 4" stroke-linejoin="round"/><polyline points="1027.2,177.3 1027.2,191.3 1030.5,202.8 1035.4,211.0 1040.4,222.6 1040.4,230.8 1043.7,242.3 1048.6,253.9 1053.6,267.0 1061.8,278.6 1068.4,286.8 1071.7,295.0" fill="none" stroke="#000" stroke-width="5.2" stroke-dasharray="13.5 4" stroke-linejoin="round"/><rect x="703.9" y="281.4" width="80.7" height="9.5" fill="#fff"/><g clip-path="url(#c_mg2)"><g filter="url(#f_mg2)"><rect x="675.0" y="315.0" width="770.0" height="130.0" fill="rgb(148,61,0)"/><polyline points="707.1,329.8 736.7,364.4 756.5,396.5 786.1,433.6" fill="none" stroke="rgb(134,128,0)" stroke-width="32" stroke-linecap="round" stroke-linejoin="round" filter="url(#bl4)"/><ellipse cx="751.6" cy="357.0" rx="4" ry="4" fill="rgb(72,51,0)" filter="url(#bl1_5)"/><ellipse cx="724.4" cy="337.2" rx="3" ry="3" fill="rgb(80,51,0)" filter="url(#bl1_5)"/><ellipse cx="761.4" cy="423.7" rx="3" ry="3" fill="rgb(75,51,0)" filter="url(#bl1_5)"/><ellipse cx="823.2" cy="364.4" rx="32" ry="26" fill="rgb(160,76,0)" filter="url(#bl10)"/><polyline points="867.2,322.4 867.2,436.0" fill="none" stroke="rgb(132,26,0)" stroke-width="1" stroke-linecap="round" stroke-linejoin="round"/><ellipse cx="875.1" cy="384.2" rx="6" ry="10" fill="rgb(192,51,0)" filter="url(#bl3)"/><ellipse cx="946.7" cy="371.8" rx="8" ry="5" fill="rgb(182,51,0)" filter="url(#bl3)"/><ellipse cx="922.0" cy="357.0" rx="3" ry="3" fill="rgb(205,26,0)" filter="url(#bl1_5)"/><ellipse cx="897.3" cy="354.5" rx="4" ry="4" fill="rgb(90,51,0)" filter="url(#bl2)"/><ellipse cx="1048.0" cy="386.6" rx="4" ry="4" fill="rgb(85,51,0)" filter="url(#bl2)"/><polyline points="892.4,364.4 922.0,413.8 931.9,433.6" fill="none" stroke="rgb(105,51,0)" stroke-width="2" stroke-linecap="round" stroke-linejoin="round" filter="url(#bl1_5)"/><polyline points="971.4,389.1 993.6,418.7" fill="none" stroke="rgb(185,51,0)" stroke-width="2" stroke-linecap="round" stroke-linejoin="round" filter="url(#bl1_5)"/><polyline points="1121.7,322.4 1121.7,436.0" fill="none" stroke="rgb(152,26,0)" stroke-width="1" stroke-linecap="round" stroke-linejoin="round"/><ellipse cx="1247.7" cy="350.8" rx="5" ry="3" fill="rgb(250,26,0)" filter="url(#bl1)"/><ellipse cx="1227.9" cy="342.2" rx="6" ry="5" fill="rgb(200,26,0)" filter="url(#bl2)"/><ellipse cx="1284.7" cy="400.2" rx="3" ry="3" fill="rgb(222,26,0)" filter="url(#bl1_2)"/><ellipse cx="1292.1" cy="410.1" rx="3" ry="3" fill="rgb(212,26,0)" filter="url(#bl1_2)"/><ellipse cx="1141.4" cy="401.4" rx="4" ry="4" fill="rgb(200,26,0)" filter="url(#bl1_5)"/><ellipse cx="1064.9" cy="413.8" rx="8" ry="10" fill="rgb(190,26,0)" filter="url(#bl3)"/><ellipse cx="1173.6" cy="342.2" rx="3" ry="6" fill="rgb(215,26,0)" filter="url(#bl1_2)"/><ellipse cx="1269.9" cy="339.7" rx="18" ry="10" fill="rgb(118,76,0)" filter="url(#bl5)"/><polyline points="1314.3,322.4 1339.0,352.0 1363.7,384.2 1388.4,413.8 1413.1,437.3" fill="none" stroke="rgb(208,38,0)" stroke-width="14" stroke-linecap="round" stroke-linejoin="round" filter="url(#bl4)"/><ellipse cx="1324.2" cy="332.3" rx="6" ry="6" fill="rgb(236,20,0)" filter="url(#bl2_5)"/><ellipse cx="1339.0" cy="354.5" rx="7" ry="7" fill="rgb(236,20,0)" filter="url(#bl2_5)"/><ellipse cx="1355.1" cy="374.3" rx="6" ry="6" fill="rgb(236,20,0)" filter="url(#bl2_5)"/><ellipse cx="1371.2" cy="394.0" rx="7" ry="7" fill="rgb(236,20,0)" filter="url(#bl2_5)"/><ellipse cx="1388.4" cy="412.6" rx="8" ry="8" fill="rgb(236,20,0)" filter="url(#bl2_5)"/><ellipse cx="1405.7" cy="427.4" rx="8" ry="8" fill="rgb(236,20,0)" filter="url(#bl2_5)"/><ellipse cx="1331.6" cy="343.4" rx="5" ry="5" fill="rgb(236,20,0)" filter="url(#bl2_5)"/><ellipse cx="1381.0" cy="403.9" rx="5" ry="5" fill="rgb(236,20,0)" filter="url(#bl2_5)"/><polygon points="1366.2,319.9 1440.3,319.9 1440.3,423.7 1425.5,413.8 1405.7,389.1 1383.5,357.0" fill="rgb(135,15,0)" filter="url(#bl4)"/><polyline points="1353.9,321.2 1376.1,359.5 1400.8,394.0 1425.5,421.2 1439.1,437.3" fill="none" stroke="rgb(78,15,0)" stroke-width="14" stroke-linecap="round" stroke-linejoin="round" filter="url(#bl5)"/><polygon points="679.9,321.2 698.5,321.2 707.1,347.1 729.3,364.4 741.7,389.1 756.5,413.8 773.8,437.3 679.9,437.3" fill="rgb(193,13,0)" filter="url(#bl1_5)"/></g><g clip-path="url(#fc_mg2_0)"><rect x="681" y="5" width="748" height="748" transform="rotate(50 1055 379)" filter="url(#fb_mg2_0)"/></g></g><g clip-path="url(#c_hm2)"><g filter="url(#f_hm2)"><rect x="675.0" y="435.0" width="770.0" height="135.0" fill="rgb(135,31,0)"/><polygon points="698.1,441.6 706.3,467.9 722.8,489.3 742.6,509.1 759.0,527.2 772.2,547.0 787.0,565.1 843.0,565.1 836.4,556.9 828.2,548.6 815.0,538.7 803.5,527.2 795.3,514.0 788.7,504.2 785.4,492.6 777.2,482.8 768.9,471.2 764.3,461.3 764.3,449.0 764.3,441.6" fill="rgb(76,56,0)" filter="url(#bl1_5)"/><polyline points="757.4,444.9 759.0,467.9 772.2,489.3 782.1,509.1 795.3,527.2 811.7,545.3 828.2,558.5" fill="none" stroke="rgb(100,51,0)" stroke-width="11" stroke-linecap="round" stroke-linejoin="round" filter="url(#bl4)"/><polyline points="704.7,448.2 712.9,469.6 729.4,491.0 749.2,510.7 765.6,528.9 778.8,548.6 790.3,563.4" fill="none" stroke="rgb(43,46,0)" stroke-width="9" stroke-linecap="round" stroke-linejoin="round" filter="url(#bl3)"/><ellipse cx="734.3" cy="469.6" rx="8" ry="6" fill="rgb(92,51,0)" filter="url(#bl3)"/><ellipse cx="721.2" cy="451.5" rx="7" ry="5" fill="rgb(87,51,0)" filter="url(#bl3)"/><ellipse cx="772.2" cy="523.9" rx="7" ry="9" fill="rgb(92,51,0)" filter="url(#bl3)"/><polygon points="764.3,441.6 764.3,449.0 764.3,461.3 768.9,471.2 777.2,482.8 785.4,492.6 788.7,504.2 795.3,514.0 803.5,527.2 815.0,538.7 828.2,548.6 836.4,556.9 843.0,565.1 842.2,565.1 842.2,441.6" fill="rgb(143,82,0)" filter="url(#bl1_5)"/><polygon points="787.0,441.6 842.2,441.6 842.2,472.9 820.0,477.8 795.3,464.6" fill="rgb(199,115,0)" filter="url(#bl3)"/><ellipse cx="795.3" cy="454.8" rx="4" ry="4" fill="rgb(245,51,0)" filter="url(#bl1_5)"/><ellipse cx="821.6" cy="459.7" rx="10" ry="6" fill="rgb(224,76,0)" filter="url(#bl2)"/><ellipse cx="805.1" cy="507.5" rx="9" ry="8" fill="rgb(240,76,0)" filter="url(#bl2)"/><polyline points="785.4,484.4 795.3,489.3" fill="none" stroke="rgb(204,76,0)" stroke-width="5" stroke-linecap="round" stroke-linejoin="round" filter="url(#bl1_5)"/><polyline points="808.4,509.1 828.2,523.9 839.7,533.8" fill="none" stroke="rgb(204,76,0)" stroke-width="5" stroke-linecap="round" stroke-linejoin="round" filter="url(#bl1_5)"/><polygon points="815.0,540.4 842.2,527.2 842.2,565.1 840.5,565.1" fill="rgb(117,64,0)" filter="url(#bl2)"/><ellipse cx="828.2" cy="489.3" rx="9" ry="7" fill="rgb(112,64,0)" filter="url(#bl3)"/><polygon points="842.2,439.9 943.5,439.9 943.5,565.1 842.2,565.1" fill="rgb(138,33,0)"/><polygon points="842.2,527.2 861.1,537.1 877.6,565.1 842.2,565.1" fill="rgb(104,31,0)" filter="url(#bl3)"/><polyline points="844.7,512.4 861.1,527.2 874.3,540.4" fill="none" stroke="rgb(184,76,0)" stroke-width="7" stroke-linecap="round" stroke-linejoin="round" filter="url(#bl2)"/><polyline points="844.7,456.4 851.2,481.1 861.1,509.1 877.6,533.8 892.4,558.5" fill="none" stroke="rgb(214,76,0)" stroke-width="9" stroke-linecap="round" stroke-linejoin="round" filter="url(#bl2)"/><ellipse cx="852.1" cy="481.9" rx="10" ry="15" fill="rgb(253,31,0)" filter="url(#bl2)"/><polygon points="866.1,527.2 885.8,528.9 895.7,542.0 897.4,561.8 882.5,563.4 869.4,547.0" fill="rgb(253,31,0)" filter="url(#bl2_5)"/><polyline points="894.1,479.5 918.8,492.6 940.2,505.8" fill="none" stroke="rgb(204,64,0)" stroke-width="3.6" stroke-linecap="round" stroke-linejoin="round" filter="url(#bl1)"/><ellipse cx="897.4" cy="449.0" rx="2.5" ry="4" fill="rgb(214,51,0)" filter="url(#bl1)"/><ellipse cx="871.0" cy="479.5" rx="3" ry="3" fill="rgb(204,51,0)" filter="url(#bl1)"/><polygon points="1078.2,439.9 1193.5,439.9 1193.5,533.8 1144.1,527.2 1111.1,489.3 1086.4,467.9" fill="rgb(112,26,0)" filter="url(#bl4)"/><ellipse cx="954.7" cy="459.7" rx="16" ry="12" fill="rgb(173,76,0)" filter="url(#bl4)"/><ellipse cx="971.2" cy="469.6" rx="5" ry="3" fill="rgb(230,51,0)" filter="url(#bl1_5)"/><ellipse cx="939.9" cy="507.5" rx="4" ry="3" fill="rgb(214,51,0)" filter="url(#bl1_5)"/><polyline points="930.0,500.9 962.9,527.2 1004.1,560.1" fill="none" stroke="rgb(161,38,0)" stroke-width="5" stroke-linecap="round" stroke-linejoin="round" filter="url(#bl2)"/><polyline points="971.2,489.3 999.2,520.6" fill="none" stroke="rgb(153,38,0)" stroke-width="4" stroke-linecap="round" stroke-linejoin="round" filter="url(#bl2)"/><ellipse cx="997.5" cy="558.8" rx="6" ry="3" fill="rgb(230,51,0)" filter="url(#bl1_2)"/><polyline points="1022.2,459.7 1037.0,492.6 1045.3,533.8 1061.7,563.4" fill="none" stroke="rgb(173,76,0)" stroke-width="28" stroke-linecap="round" stroke-linejoin="round" filter="url(#bl4)"/><ellipse cx="1012.3" cy="474.5" rx="5" ry="9" fill="rgb(247,38,0)" transform="rotate(-20 1012.3 474.5)" filter="url(#bl1_5)"/><polyline points="1004.1,494.3 1015.6,502.5 1028.8,510.7" fill="none" stroke="rgb(252,31,0)" stroke-width="7" stroke-linecap="round" stroke-linejoin="round" filter="url(#bl1_5)"/><polyline points="1037.0,500.9 1045.3,517.3 1055.1,537.1 1070.0,558.5" fill="none" stroke="rgb(247,51,0)" stroke-width="14" stroke-linecap="round" stroke-linejoin="round" filter="url(#bl2)"/><polyline points="1030.4,451.5 1042.0,467.9 1051.9,481.1" fill="none" stroke="rgb(224,51,0)" stroke-width="4" stroke-linecap="round" stroke-linejoin="round" filter="url(#bl1)"/><polyline points="1022.2,459.7 1027.2,469.6" fill="none" stroke="rgb(214,51,0)" stroke-width="3" stroke-linecap="round" stroke-linejoin="round" filter="url(#bl1)"/><polyline points="1060.1,497.6 1099.6,553.6" fill="none" stroke="rgb(184,76,0)" stroke-width="21" stroke-linecap="round" stroke-linejoin="round" filter="url(#bl3)"/><polyline points="1061.7,499.2 1074.9,517.3 1084.8,533.8 1098.0,550.3" fill="none" stroke="rgb(247,38,0)" stroke-width="10" stroke-linecap="round" stroke-linejoin="round" filter="url(#bl1_5)"/><polyline points="1083.1,464.6 1124.3,509.1 1150.6,563.4" fill="none" stroke="rgb(178,76,0)" stroke-width="19" stroke-linecap="round" stroke-linejoin="round" filter="url(#bl3)"/><polyline points="1086.4,472.9 1102.9,482.8 1114.4,492.6 1124.3,509.1" fill="none" stroke="rgb(252,31,0)" stroke-width="11" stroke-linecap="round" stroke-linejoin="round" filter="url(#bl1_5)"/><polyline points="1124.3,509.1 1135.8,533.8 1144.1,550.3 1149.0,563.4" fill="none" stroke="rgb(209,76,0)" stroke-width="5" stroke-linecap="round" stroke-linejoin="round" filter="url(#bl1_5)"/><ellipse cx="1117.7" cy="561.0" rx="7" ry="3" fill="rgb(224,51,0)" filter="url(#bl1_2)"/><ellipse cx="1167.1" cy="447.3" rx="8" ry="4" fill="rgb(184,51,0)" filter="url(#bl2)"/><ellipse cx="1093.0" cy="509.1" rx="6" ry="6" fill="rgb(153,38,0)" filter="url(#bl3)"/><polygon points="1180.0,439.9 1436.9,439.9 1436.9,566.7 1180.0,566.7" fill="rgb(118,28,0)"/><polyline points="1295.3,441.6 1328.2,467.9 1361.1,500.9 1385.8,533.8 1410.5,564.3" fill="none" stroke="rgb(97,31,0)" stroke-width="24" stroke-linecap="round" stroke-linejoin="round" filter="url(#bl5)"/><ellipse cx="1196.5" cy="444.1" rx="18" ry="5" fill="rgb(155,31,0)" filter="url(#bl3)"/><ellipse cx="1191.5" cy="484.4" rx="5" ry="7" fill="rgb(204,31,0)" filter="url(#bl1_5)"/><polyline points="1196.5,492.6 1216.2,512.4" fill="none" stroke="rgb(153,31,0)" stroke-width="3" stroke-linecap="round" stroke-linejoin="round" filter="url(#bl1_2)"/><polyline points="1226.1,523.9 1259.0,556.9" fill="none" stroke="rgb(158,31,0)" stroke-width="4" stroke-linecap="round" stroke-linejoin="round" filter="url(#bl1_5)"/><ellipse cx="1242.6" cy="542.0" rx="3" ry="2.5" fill="rgb(194,31,0)" filter="url(#bl1)"/><polyline points="1262.3,520.6 1278.8,523.9" fill="none" stroke="rgb(153,31,0)" stroke-width="3" stroke-linecap="round" stroke-linejoin="round" filter="url(#bl1)"/><polyline points="1278.8,533.8 1303.5,550.3" fill="none" stroke="rgb(158,31,0)" stroke-width="5" stroke-linecap="round" stroke-linejoin="round" filter="url(#bl1_5)"/><ellipse cx="1311.7" cy="558.5" rx="4" ry="4" fill="rgb(153,31,0)" filter="url(#bl1_5)"/><ellipse cx="1326.6" cy="471.6" rx="4" ry="3" fill="rgb(194,31,0)" filter="url(#bl1_2)"/><ellipse cx="1334.8" cy="475.3" rx="3" ry="2" fill="rgb(153,31,0)" filter="url(#bl1_2)"/><polyline points="1305.1,440.8 1320.0,451.5 1336.4,463.0 1344.7,477.8 1357.8,491.0 1374.3,500.9 1382.5,517.3 1394.1,533.8 1410.5,548.6 1421.2,566.7" fill="none" stroke="rgb(51,26,0)" stroke-width="6" stroke-linecap="round" stroke-linejoin="round" filter="url(#bl1_5)"/><polygon points="1307.6,439.1 1321.9,451.5 1338.4,463.0 1346.6,477.8 1359.8,491.0 1376.3,500.9 1384.5,517.3 1396.0,533.8 1412.5,548.6 1423.2,566.7 1443.5,566.7 1443.5,439.1" fill="rgb(0,0,0)" filter="url(#bl1_2)"/><polygon points="681.6,441.6 698.1,441.6 706.3,467.9 722.8,489.3 742.6,509.1 759.0,527.2 772.2,547.0 787.0,565.1 681.6,565.1" fill="rgb(0,0,0)" filter="url(#bl1_5)"/></g></g><polyline points="764.3,449.0 764.3,461.3 768.9,471.2 777.2,482.8 785.4,492.6 788.7,504.2 795.3,514.0 803.5,527.2 815.0,538.7 828.2,548.6 836.4,556.9" fill="none" stroke="#000" stroke-width="5.2" stroke-dasharray="13.5 4" stroke-linejoin="round"/><polyline points="1012.3,440.8 1012.3,454.8 1018.9,466.3 1028.8,477.8 1038.7,487.7 1042.0,499.2 1048.6,509.1 1058.4,520.6 1066.7,532.2 1078.2,542.0 1091.4,550.3 1101.2,560.1" fill="none" stroke="#000" stroke-width="5.2" stroke-dasharray="13.5 4" stroke-linejoin="round"/><rect x="691.9" y="546.1" width="56.1" height="9.6" fill="#fff"/><g clip-path="url(#c_mg3)"><g filter="url(#f_mg3)"><rect x="670.0" y="600.0" width="775.0" height="145.0" fill="rgb(104,115,0)"/><polygon points="699.7,604.9 890.4,604.9 890.4,742.0 724.4,742.0 704.6,698.8 694.8,669.2 702.2,637.0" fill="rgb(176,140,0)" filter="url(#bl2)"/><polygon points="749.1,619.8 778.7,624.7 813.3,649.4 808.4,674.1 823.2,686.4 803.4,698.8 786.1,681.5 768.9,654.3 756.5,637.0" fill="rgb(150,26,0)" filter="url(#bl4)"/><ellipse cx="820.7" cy="659.3" rx="8" ry="12" fill="rgb(175,51,0)" filter="url(#bl2)"/><polyline points="707.1,637.0 724.4,642.0 736.7,614.8" fill="none" stroke="rgb(95,76,0)" stroke-width="1.6" stroke-linecap="round" stroke-linejoin="round" filter="url(#bl1_2)"/><polyline points="734.3,674.1 749.1,666.7 761.4,671.6" fill="none" stroke="rgb(85,76,0)" stroke-width="2" stroke-linecap="round" stroke-linejoin="round" filter="url(#bl1_2)"/><polyline points="717.0,681.5 719.5,703.7" fill="none" stroke="rgb(100,76,0)" stroke-width="1.6" stroke-linecap="round" stroke-linejoin="round" filter="url(#bl1_2)"/><polyline points="778.7,706.2 803.4,708.7 801.0,696.3" fill="none" stroke="rgb(85,76,0)" stroke-width="1.6" stroke-linecap="round" stroke-linejoin="round" filter="url(#bl1_2)"/><polyline points="823.2,624.7 828.1,674.1 833.1,723.5" fill="none" stroke="rgb(110,76,0)" stroke-width="1.6" stroke-linecap="round" stroke-linejoin="round" filter="url(#bl1_2)"/><polyline points="778.7,627.2 791.1,614.8 798.5,622.2" fill="none" stroke="rgb(90,76,0)" stroke-width="2" stroke-linecap="round" stroke-linejoin="round" filter="url(#bl1_2)"/><polyline points="724.4,649.4 749.1,656.8 756.5,644.5" fill="none" stroke="rgb(100,76,0)" stroke-width="1.5" stroke-linecap="round" stroke-linejoin="round" filter="url(#bl1_2)"/><ellipse cx="855.3" cy="698.8" rx="25" ry="35" fill="rgb(140,153,0)" filter="url(#bl8)"/><polyline points="890.4,604.9 890.4,742.0" fill="none" stroke="rgb(225,13,0)" stroke-width="1.2" stroke-linecap="round" stroke-linejoin="round"/><ellipse cx="907.2" cy="619.8" rx="15" ry="14" fill="rgb(52,128,0)" filter="url(#bl5)"/><polyline points="1028.2,608.2 1030.7,649.4 1023.3,693.9" fill="none" stroke="rgb(38,76,0)" stroke-width="12" stroke-linecap="round" stroke-linejoin="round" filter="url(#bl4)"/><ellipse cx="966.5" cy="686.4" rx="36" ry="46" fill="rgb(135,128,0)" filter="url(#bl10)"/><ellipse cx="922.0" cy="681.5" rx="20" ry="20" fill="rgb(84,128,0)" filter="url(#bl6)"/><ellipse cx="1087.1" cy="654.3" rx="32" ry="18" fill="rgb(150,128,0)" filter="url(#bl6)"/><ellipse cx="1104.4" cy="711.1" rx="40" ry="25" fill="rgb(80,128,0)" filter="url(#bl8)"/><polyline points="1193.3,624.7 1183.4,674.1 1178.5,738.3" fill="none" stroke="rgb(192,51,0)" stroke-width="2" stroke-linecap="round" stroke-linejoin="round" filter="url(#bl0_8)"/><polyline points="1205.7,629.6 1193.3,686.4 1188.4,738.3" fill="none" stroke="rgb(182,51,0)" stroke-width="2" stroke-linecap="round" stroke-linejoin="round" filter="url(#bl0_8)"/><polyline points="1173.6,637.0 1163.7,698.8 1158.7,738.3" fill="none" stroke="rgb(162,51,0)" stroke-width="2" stroke-linecap="round" stroke-linejoin="round" filter="url(#bl0_8)"/><polyline points="1215.5,634.6 1203.2,681.5" fill="none" stroke="rgb(172,51,0)" stroke-width="1.5" stroke-linecap="round" stroke-linejoin="round" filter="url(#bl0_8)"/><polyline points="1185.9,624.7 1176.0,679.0" fill="none" stroke="rgb(60,51,0)" stroke-width="1.5" stroke-linecap="round" stroke-linejoin="round" filter="url(#bl0_8)"/><polyline points="1200.7,627.2 1189.6,684.0" fill="none" stroke="rgb(55,51,0)" stroke-width="1.5" stroke-linecap="round" stroke-linejoin="round" filter="url(#bl0_8)"/><ellipse cx="1220.5" cy="684.0" rx="10" ry="25" fill="rgb(30,51,0)" filter="url(#bl4)"/><ellipse cx="1227.9" cy="726.0" rx="25" ry="12" fill="rgb(45,76,0)" filter="url(#bl5)"/><ellipse cx="1237.8" cy="681.5" rx="10" ry="14" fill="rgb(120,128,0)" filter="url(#bl3)"/><polygon points="1253.3,604.9 1440.3,604.9 1440.3,742.0 1253.3,742.0" fill="rgb(96,82,0)"/><polygon points="1260.0,661.7 1277.3,629.6 1314.3,612.3 1351.4,619.8 1358.8,637.0 1339.0,674.1 1314.3,703.7 1277.3,723.5 1260.0,718.6" fill="rgb(186,140,0)" filter="url(#bl3)"/><ellipse cx="1306.9" cy="724.7" rx="28" ry="12" fill="rgb(105,26,0)" filter="url(#bl4)"/><ellipse cx="1400.8" cy="637.0" rx="20" ry="18" fill="rgb(108,82,0)" filter="url(#bl6)"/><polyline points="1253.3,604.9 1253.3,742.0" fill="none" stroke="rgb(238,13,0)" stroke-width="1.2" stroke-linecap="round" stroke-linejoin="round"/><polygon points="677.5,604.9 709.6,604.9 702.2,637.0 694.8,669.2 704.6,698.8 724.4,723.5 729.3,743.3 677.5,743.3" fill="rgb(173,15,0)" filter="url(#bl2)"/></g><g clip-path="url(#fc_mg3_0)"><rect x="666" y="549" width="249" height="249" transform="rotate(30 790 673)" filter="url(#fb_mg3_0)"/></g><g clip-path="url(#fc_mg3_1)"><rect x="874" y="475" width="396" height="396" transform="rotate(78 1072 673)" filter="url(#fb_mg3_1)"/></g><g mask="url(#fc_mg3_3)"><rect x="882" y="593" width="160" height="160" transform="rotate(80 962 673)" filter="url(#fb_mg3_3)"/></g><g mask="url(#fc_mg3_4)"><rect x="1107" y="592" width="161" height="161" transform="rotate(76 1188 673)" filter="url(#fb_mg3_4)"/></g><g clip-path="url(#fc_mg3_2)"><rect x="1227" y="555" width="235" height="235" transform="rotate(35 1345 673)" filter="url(#fb_mg3_2)"/></g></g><g clip-path="url(#c_hm3)"><g filter="url(#f_hm3)"><rect x="670.0" y="740.0" width="775.0" height="160.0" fill="rgb(94,56,0)"/><polygon points="678.3,748.2 877.9,748.2 877.9,893.1 678.3,893.1" fill="rgb(48,61,0)"/><ellipse cx="707.9" cy="796.0" rx="8" ry="8" fill="rgb(88,61,0)" filter="url(#bl3)"/><ellipse cx="724.4" cy="766.3" rx="9" ry="8" fill="rgb(88,61,0)" filter="url(#bl3)"/><ellipse cx="729.3" cy="812.5" rx="10" ry="12" fill="rgb(88,61,0)" filter="url(#bl3)"/><ellipse cx="732.6" cy="838.8" rx="10" ry="8" fill="rgb(88,61,0)" filter="url(#bl3)"/><ellipse cx="790.3" cy="776.2" rx="12" ry="9" fill="rgb(88,61,0)" filter="url(#bl3)"/><ellipse cx="767.2" cy="832.2" rx="12" ry="10" fill="rgb(88,61,0)" filter="url(#bl3)"/><ellipse cx="811.7" cy="809.2" rx="9" ry="10" fill="rgb(88,61,0)" filter="url(#bl3)"/><ellipse cx="752.4" cy="865.1" rx="10" ry="8" fill="rgb(88,61,0)" filter="url(#bl3)"/><ellipse cx="839.7" cy="768.0" rx="10" ry="8" fill="rgb(88,61,0)" filter="url(#bl3)"/><ellipse cx="861.1" cy="819.0" rx="7" ry="12" fill="rgb(88,61,0)" filter="url(#bl3)"/><ellipse cx="703.0" cy="838.8" rx="5" ry="5" fill="rgb(88,61,0)" filter="url(#bl3)"/><ellipse cx="780.4" cy="871.7" rx="10" ry="6" fill="rgb(88,61,0)" filter="url(#bl3)"/><ellipse cx="828.1" cy="832.2" rx="7" ry="7" fill="rgb(88,61,0)" filter="url(#bl3)"/><ellipse cx="823.2" cy="866.8" rx="26" ry="14" fill="rgb(36,56,0)" filter="url(#bl5)"/><ellipse cx="839.7" cy="794.3" rx="10" ry="14" fill="rgb(41,56,0)" filter="url(#bl4)"/><polygon points="844.6,880.0 877.9,814.1 877.9,893.1 839.7,893.1" fill="rgb(82,56,0)" filter="url(#bl3)"/><polygon points="877.9,789.4 890.7,789.4 897.3,748.2 938.5,748.2 938.5,893.1 877.9,893.1" fill="rgb(97,56,0)"/><ellipse cx="913.8" cy="873.4" rx="22" ry="18" fill="rgb(120,56,0)" filter="url(#bl5)"/><ellipse cx="910.5" cy="768.0" rx="3" ry="3" fill="rgb(173,51,0)" filter="url(#bl1)"/><ellipse cx="920.3" cy="766.3" rx="2.5" ry="4" fill="rgb(204,51,0)" filter="url(#bl1)"/><ellipse cx="898.9" cy="784.5" rx="2" ry="6" fill="rgb(245,51,0)" filter="url(#bl1)"/><ellipse cx="910.5" cy="789.4" rx="3" ry="4" fill="rgb(163,51,0)" filter="url(#bl1)"/><ellipse cx="895.6" cy="795.2" rx="3" ry="3" fill="rgb(184,51,0)" filter="url(#bl1)"/><ellipse cx="870.9" cy="761.4" rx="2" ry="2" fill="rgb(143,51,0)" filter="url(#bl1)"/><ellipse cx="872.6" cy="781.2" rx="2.5" ry="2" fill="rgb(148,51,0)" filter="url(#bl1)"/><polygon points="1010.6,777.9 1097.9,777.9 1081.4,893.1 1010.6,893.1" fill="rgb(107,66,0)" filter="url(#bl6)"/><ellipse cx="936.5" cy="810.8" rx="14" ry="30" fill="rgb(66,56,0)" filter="url(#bl6)"/><polygon points="979.3,748.2 1007.3,748.2 1010.6,789.4 1010.6,822.3 997.5,825.6 974.4,822.3 977.7,789.4" fill="rgb(168,97,0)" filter="url(#bl4)"/><ellipse cx="990.9" cy="761.4" rx="8" ry="10" fill="rgb(189,76,0)" filter="url(#bl3)"/><ellipse cx="987.6" cy="810.8" rx="10" ry="9" fill="rgb(189,76,0)" filter="url(#bl3)"/><polygon points="969.5,819.0 1010.6,817.4 1012.3,893.1 949.7,893.1 971.1,855.3" fill="rgb(194,107,0)" filter="url(#bl3)"/><polygon points="980.2,824.8 999.9,823.2 995.0,840.4 999.1,852.0 993.3,868.4 990.0,893.1 980.2,893.1 977.7,865.1" fill="rgb(253,31,0)" filter="url(#bl2)"/><ellipse cx="1033.7" cy="833.9" rx="15" ry="20" fill="rgb(145,64,0)" filter="url(#bl5)"/><ellipse cx="1040.3" cy="817.4" rx="7" ry="5" fill="rgb(153,64,0)" filter="url(#bl3)"/><polygon points="1027.1,748.2 1088.0,748.2 1083.1,766.3 1069.9,776.2 1050.1,776.2 1032.0,766.3" fill="rgb(204,107,0)" filter="url(#bl3)"/><polygon points="1043.6,748.2 1069.9,748.2 1068.3,769.6 1050.1,771.3" fill="rgb(230,64,0)" filter="url(#bl2)"/><ellipse cx="1078.1" cy="756.5" rx="6" ry="5" fill="rgb(224,64,0)" filter="url(#bl2)"/><polyline points="1020.5,748.2 1022.2,769.6 1030.4,781.2 1040.3,789.4" fill="none" stroke="rgb(10,20,0)" stroke-width="10" stroke-linecap="round" stroke-linejoin="round" filter="url(#bl1_5)"/><ellipse cx="1005.7" cy="777.9" rx="4" ry="4" fill="rgb(41,26,0)" filter="url(#bl1_5)"/><ellipse cx="1046.9" cy="804.2" rx="4" ry="6" fill="rgb(31,26,0)" filter="url(#bl1_5)"/><ellipse cx="1015.6" cy="835.5" rx="4" ry="8" fill="rgb(31,26,0)" filter="url(#bl1_5)"/><ellipse cx="1022.2" cy="858.6" rx="3" ry="3" fill="rgb(46,26,0)" filter="url(#bl1_5)"/><ellipse cx="1050.1" cy="802.6" rx="2" ry="2" fill="rgb(214,26,0)" filter="url(#bl1_5)"/><ellipse cx="1103.7" cy="800.9" rx="8" ry="11" fill="rgb(194,64,0)" filter="url(#bl2)"/><ellipse cx="1102.8" cy="807.5" rx="2" ry="2" fill="rgb(245,26,0)" filter="url(#bl0_8)"/><polyline points="1125.9,771.3 1137.4,764.7 1145.6,753.2" fill="none" stroke="rgb(184,64,0)" stroke-width="5" stroke-linecap="round" stroke-linejoin="round" filter="url(#bl2)"/><ellipse cx="1130.8" cy="868.4" rx="12" ry="8" fill="rgb(168,64,0)" filter="url(#bl3)"/><ellipse cx="1137.4" cy="866.8" rx="4" ry="4" fill="rgb(189,51,0)" filter="url(#bl1_5)"/><ellipse cx="1137.4" cy="847.0" rx="5" ry="5" fill="rgb(56,51,0)" filter="url(#bl3)"/><ellipse cx="1175.3" cy="848.7" rx="8" ry="12" fill="rgb(61,51,0)" filter="url(#bl4)"/><ellipse cx="1139.1" cy="805.9" rx="6" ry="5" fill="rgb(66,51,0)" filter="url(#bl3)"/><polygon points="1175.0,748.2 1257.3,748.2 1224.4,838.8 1207.9,893.1 1175.0,893.1" fill="rgb(82,82,0)" filter="url(#bl3)"/><ellipse cx="1203.0" cy="772.9" rx="6" ry="16" fill="rgb(51,64,0)" filter="url(#bl3)"/><ellipse cx="1224.4" cy="802.6" rx="16" ry="20" fill="rgb(56,64,0)" filter="url(#bl4)"/><polygon points="1349.5,748.2 1438.5,748.2 1438.5,893.1 1303.4,893.1 1331.4,842.1 1339.7,814.1" fill="rgb(104,69,0)" filter="url(#bl2)"/><ellipse cx="1385.8" cy="776.2" rx="12" ry="16" fill="rgb(153,51,0)" filter="url(#bl4)"/><ellipse cx="1372.6" cy="822.3" rx="18" ry="14" fill="rgb(128,64,0)" filter="url(#bl5)"/><polygon points="1323.2,855.3 1395.6,842.1 1395.6,893.1 1303.4,893.1" fill="rgb(82,64,0)" filter="url(#bl5)"/><polygon points="1268.9,748.2 1356.1,748.2 1356.1,761.4 1270.5,759.8" fill="rgb(71,64,0)" filter="url(#bl2)"/><ellipse cx="1339.7" cy="756.5" rx="9" ry="8" fill="rgb(138,51,0)" filter="url(#bl2)"/><polygon points="1267.2,759.8 1331.4,763.1 1339.7,789.4 1328.1,835.5 1300.1,866.8 1267.2,875.0 1244.2,870.1 1231.0,863.5 1245.8,838.8 1252.4,814.1 1260.6,786.1" fill="rgb(104,102,0)" filter="url(#bl3)"/><ellipse cx="1290.3" cy="768.0" rx="8" ry="5" fill="rgb(138,76,0)" filter="url(#bl3)"/><ellipse cx="1287.0" cy="809.2" rx="7" ry="6" fill="rgb(138,76,0)" filter="url(#bl3)"/><ellipse cx="1263.9" cy="845.4" rx="8" ry="8" fill="rgb(133,76,0)" filter="url(#bl3)"/><ellipse cx="1296.9" cy="827.3" rx="5" ry="3" fill="rgb(20,26,0)" filter="url(#bl1_2)"/><ellipse cx="1287.0" cy="842.1" rx="6" ry="3" fill="rgb(41,26,0)" filter="url(#bl1_5)"/><polygon points="1257.3,748.2 1268.9,748.2 1260.6,786.1 1252.4,814.1 1245.8,838.8 1229.3,863.5 1207.9,893.1 1206.3,855.3 1224.4,832.2 1240.9,814.1 1249.1,781.2" fill="rgb(8,15,0)" filter="url(#bl1_5)"/><polygon points="1207.9,893.1 1209.6,871.7 1229.3,865.1 1257.3,880.0 1290.3,876.7 1303.4,893.1" fill="rgb(8,15,0)" filter="url(#bl1_5)"/><polygon points="1341.3,776.2 1349.5,779.5 1338.0,814.1 1331.4,842.1 1306.7,871.7 1290.3,893.1 1277.1,893.1 1296.9,868.4 1323.2,837.2 1329.8,809.2" fill="rgb(12,15,0)" filter="url(#bl1_5)"/><ellipse cx="1371.8" cy="759.8" rx="2.2" ry="2.2" fill="rgb(224,26,0)" filter="url(#bl0_8)"/><ellipse cx="1257.3" cy="789.4" rx="2.2" ry="2.2" fill="rgb(224,26,0)" filter="url(#bl0_8)"/><ellipse cx="1235.1" cy="858.6" rx="2" ry="2" fill="rgb(184,26,0)" filter="url(#bl0_8)"/><ellipse cx="1352.0" cy="775.4" rx="2" ry="2" fill="rgb(173,26,0)" filter="url(#bl0_8)"/><ellipse cx="1345.4" cy="814.1" rx="2" ry="2" fill="rgb(173,26,0)" filter="url(#bl0_8)"/><polyline points="1435.2,776.2 1422.0,782.8 1408.8,794.3 1405.5,814.1 1408.8,832.2 1422.0,842.1 1428.6,855.3 1418.7,865.1 1402.2,861.9 1395.6,871.7 1395.6,894.0" fill="none" stroke="rgb(51,31,0)" stroke-width="7" stroke-linecap="round" stroke-linejoin="round" filter="url(#bl2)"/><polygon points="1435.2,776.2 1422.0,782.8 1408.8,794.3 1405.5,814.1 1408.8,832.2 1422.0,842.1 1428.6,855.3 1418.7,865.1 1402.2,861.9 1395.6,871.7 1395.6,894.0 1438.5,894.0 1438.5,776.2" fill="rgb(0,0,0)" filter="url(#bl1_5)"/><polygon points="676.6,748.2 712.9,748.2 707.9,769.6 699.7,789.4 691.5,814.1 694.8,842.1 716.2,858.6 729.3,871.7 735.9,893.1 676.6,893.1" fill="rgb(0,0,0)" filter="url(#bl1_5)"/><polygon points="737.6,761.4 767.2,749.1 777.1,781.2 803.4,794.3 819.9,832.2 810.0,855.3 793.6,838.8 767.2,809.2 750.7,781.2" fill="rgb(0,0,0)" filter="url(#bl1_5)"/><polygon points="740.9,748.2 768.9,748.2 767.2,758.1 744.2,761.4" fill="rgb(5,0,0)" filter="url(#bl1_5)"/><polygon points="877.9,748.2 897.3,748.2 896.5,772.9 890.7,789.4 877.9,789.4" fill="rgb(0,0,0)" filter="url(#bl1)"/></g></g><polyline points="900.6,751.9 898.9,766.3 895.6,782.8 887.4,797.6 882.5,810.8 879.2,824.0 872.6,838.8 864.4,852.0 856.1,865.1 844.6,880.0" fill="none" stroke="#000" stroke-width="5.2" stroke-dasharray="13.5 4" stroke-linejoin="round"/><polyline points="1101.2,756.5 1100.4,769.6 1097.9,782.8 1094.6,797.6 1091.3,812.5 1088.8,828.9 1085.5,845.4 1080.6,861.9 1076.5,875.0 1074.0,886.6" fill="none" stroke="#000" stroke-width="5.2" stroke-dasharray="13.5 4" stroke-linejoin="round"/><rect x="687.8" y="877.2" width="58.3" height="9.8" fill="#fff"/>
<line x1="130.6" y1="938.5" x2="130.6" y2="1753.0" stroke="#000" stroke-width="4.4"/>
<line x1="89.5" y1="974.4" x2="1535.0" y2="974.4" stroke="#000" stroke-width="4"/>
<line x1="94.0" y1="1205.8" x2="1535.0" y2="1205.8" stroke="#000" stroke-width="2.2"/>
<line x1="94.0" y1="1444.4" x2="1535.0" y2="1444.4" stroke="#000" stroke-width="2.2"/>
<line x1="474.0" y1="926.0" x2="474.0" y2="1741.0" stroke="#000" stroke-width="2"/>
<line x1="816.6" y1="926.0" x2="816.6" y2="1742.0" stroke="#000" stroke-width="2"/>
<line x1="1160.3" y1="930.0" x2="1160.3" y2="1745.0" stroke="#000" stroke-width="2"/>
<text x="284.3" y="965.0" font-size="27.7" font-weight="bold" text-anchor="middle">Urothelium</text>
<text x="645.3" y="963.4" font-size="27.6" font-weight="bold" text-anchor="middle">Lamina propria</text>
<text x="976.4" y="963.8" font-size="27.9" font-weight="bold" text-anchor="middle">Muscle</text>
<text x="1317.0" y="967.0" font-size="27.5" font-weight="bold" text-anchor="middle">Whole tissue</text>
<text transform="translate(105.3 1087.0) rotate(-90)" font-size="30.9" text-anchor="middle">Month 2</text>
<text transform="translate(105.3 1323.5) rotate(-90)" font-size="30.9" text-anchor="middle">Month 4</text>
<text transform="translate(105.3 1582.7) rotate(-90)" font-size="30.9" text-anchor="middle">Month 6</text>
<text x="1496.5" y="1018.7" font-size="24" font-weight="bold" fill="#b4b4b4">Control</text>
<text x="1496.5" y="1046.5" font-size="24" font-weight="bold" fill="#27b366">X-ray</text>
<path d="M226.81 1198.20V1196.75H231.42V1196.12H236.02V1191.35H240.63V1172.37H245.23V1034.28H249.84V990.70H254.45V990.70H259.05V1099.64H263.66V1134.91H268.26V1167.08H272.87V1186.79H277.47V1191.98H282.08V1195.61H286.69V1197.16H291.29V1198.20Z" fill="#cccccc" fill-opacity="0.6"/>
<path d="M231.42 1198.20V1197.58H236.02V1197.16H240.63V1194.47H245.23V1190.42H249.84V1182.22H254.45V1162.51H259.05V1103.16H263.66V1029.09H268.26V1001.08H272.87V1021.31H277.47V1060.21H282.08V1109.18H286.69V1149.96H291.29V1174.44H295.90V1184.51H300.50V1193.32H305.11V1197.16H309.71V1196.12H314.32V1197.58H318.93V1197.58H323.53V1197.58H328.14V1198.20Z" fill="#47c88e" fill-opacity="0.65"/>
<path d="M217.6 990.7V1198.2H378.8" fill="none" stroke="#686868" stroke-width="0.9"/>
<path d="M217.6 1146.3h2.2M217.6 1094.5h2.2M217.6 1042.6h2.2M217.6 990.7h2.2M240.6 1198.2v-2.2M263.7 1198.2v-2.2M286.7 1198.2v-2.2M309.7 1198.2v-2.2M332.7 1198.2v-2.2M355.8 1198.2v-2.2M378.8 1198.2v-2.2" stroke="#686868" stroke-width="0.9" fill="none"/>
<text x="213.7" y="996.7" font-size="17.0" text-anchor="end" fill="#222">0.2</text>
<text x="213.7" y="1048.6" font-size="17.0" text-anchor="end" fill="#222">0.15</text>
<text x="213.7" y="1100.5" font-size="17.0" text-anchor="end" fill="#222">0.1</text>
<text x="213.7" y="1152.3" font-size="17.0" text-anchor="end" fill="#222">0.05</text>
<rect x="203.6" y="1202.8" width="1.6" height="1.1" fill="#333"/><rect x="207.2" y="1202.8" width="1.6" height="1.1" fill="#333"/>
<text transform="translate(174.0 1094.5) rotate(-90)" font-size="19.5" text-anchor="middle" fill="#222" textLength="94">Probability</text>
<path d="M580.83 1195.30V1194.34H585.44V1193.37H590.05V1191.44H594.66V1188.55H599.27V1182.18H603.88V1172.15H608.49V1155.18H613.09V1124.02H617.70V1095.09H622.31V1093.64H626.92V1094.70H631.53V1116.02H636.14V1139.74H640.75V1147.75H645.35V1150.06H649.96V1154.60H654.57V1155.76H659.18V1159.13H663.79V1167.72H668.40V1173.79H673.01V1178.52H677.61V1180.83H682.22V1182.57H686.83V1183.73H691.44V1184.79H696.05V1186.52H700.66V1187.68H705.27V1189.51H709.87V1191.63H714.48V1192.41H719.09V1193.37H723.70V1195.30Z" fill="#cccccc" fill-opacity="0.6"/>
<path d="M580.83 1195.30V1194.34H585.44V1193.95H590.05V1193.56H594.66V1193.18H599.27V1192.02H603.88V1189.90H608.49V1187.10H613.09V1182.18H617.70V1172.06H622.31V1150.26H626.92V1139.17H631.53V1128.65H636.14V1116.79H640.75V1103.87H645.35V1101.26H649.96V1107.82H654.57V1114.96H659.18V1129.52H663.79V1137.82H668.40V1150.06H673.01V1160.87H677.61V1171.67H682.22V1177.17H686.83V1181.03H691.44V1184.02H696.05V1186.52H700.66V1188.26H705.27V1189.71H709.87V1191.35H714.48V1192.21H719.09V1193.18H723.70V1195.30Z" fill="#47c88e" fill-opacity="0.65"/>
<path d="M562.4 1002.4V1195.3H723.7" fill="none" stroke="#686868" stroke-width="0.9"/>
<path d="M562.4 1147.1h2.2M562.4 1098.8h2.2M562.4 1050.6h2.2M562.4 1002.4h2.2M585.4 1195.3v-2.2M608.5 1195.3v-2.2M631.5 1195.3v-2.2M654.6 1195.3v-2.2M677.6 1195.3v-2.2M700.7 1195.3v-2.2M723.7 1195.3v-2.2" stroke="#686868" stroke-width="0.9" fill="none"/>
<text x="558.5" y="1008.4" font-size="17.0" text-anchor="end" fill="#222">0.2</text>
<text x="558.5" y="1056.6" font-size="17.0" text-anchor="end" fill="#222">0.15</text>
<text x="558.5" y="1104.8" font-size="17.0" text-anchor="end" fill="#222">0.1</text>
<text x="558.5" y="1153.1" font-size="17.0" text-anchor="end" fill="#222">0.05</text>
<rect x="548.4" y="1199.9" width="1.6" height="1.1" fill="#333"/><rect x="552.0" y="1199.9" width="1.6" height="1.1" fill="#333"/>
<text transform="translate(518.8 1098.8) rotate(-90)" font-size="19.5" text-anchor="middle" fill="#222" textLength="94">Probability</text>
<path d="M929.37 1199.30V1192.44H933.99V1187.13H938.60V1177.88H943.21V1159.05H947.83V1122.13H952.44V1070.76H957.06V1011.79H961.67V991.30H966.29V1037.68H970.90V1099.88H975.51V1145.95H980.13V1177.04H984.74V1190.15H989.36V1198.26H993.97V1198.57H998.59V1199.30Z" fill="#cccccc" fill-opacity="0.6"/>
<path d="M910.91 1199.30V1198.36H915.53V1198.36H920.14V1198.36H924.76V1198.36H929.37V1197.95H933.99V1196.18H938.60V1193.27H943.21V1189.32H947.83V1175.07H952.44V1153.54H957.06V1121.51H961.67V1071.07H966.29V1065.04H970.90V1092.18H975.51V1102.37H980.13V1107.26H984.74V1116.62H989.36V1116.31H993.97V1130.56H998.59V1154.06H1003.20V1179.02H1007.81V1192.23H1012.43V1194.93H1017.04V1198.36H1021.66V1198.78H1026.27V1198.78H1030.89V1199.30Z" fill="#47c88e" fill-opacity="0.65"/>
<path d="M906.3 991.3V1199.3H1067.8" fill="none" stroke="#686868" stroke-width="0.9"/>
<path d="M906.3 1147.3h2.2M906.3 1095.3h2.2M906.3 1043.3h2.2M906.3 991.3h2.2M929.4 1199.3v-2.2M952.4 1199.3v-2.2M975.5 1199.3v-2.2M998.6 1199.3v-2.2M1021.7 1199.3v-2.2M1044.7 1199.3v-2.2M1067.8 1199.3v-2.2" stroke="#686868" stroke-width="0.9" fill="none"/>
<text x="902.4" y="997.3" font-size="17.0" text-anchor="end" fill="#222">0.2</text>
<text x="902.4" y="1049.3" font-size="17.0" text-anchor="end" fill="#222">0.15</text>
<text x="902.4" y="1101.3" font-size="17.0" text-anchor="end" fill="#222">0.1</text>
<text x="902.4" y="1153.3" font-size="17.0" text-anchor="end" fill="#222">0.05</text>
<rect x="892.3" y="1203.9" width="1.6" height="1.1" fill="#333"/><rect x="895.9" y="1203.9" width="1.6" height="1.1" fill="#333"/>
<text transform="translate(862.7 1095.3) rotate(-90)" font-size="19.5" text-anchor="middle" fill="#222" textLength="94">Probability</text>
<path d="M1265.14 1199.30V1198.36H1269.76V1197.64H1274.37V1193.79H1278.99V1178.50H1283.60V1153.54H1288.21V1163.11H1292.83V1161.13H1297.44V1143.97H1302.06V1114.12H1306.67V1088.23H1311.29V1093.32H1315.90V1101.54H1320.51V1125.77H1325.13V1149.17H1329.74V1157.18H1334.36V1159.99H1338.97V1164.56H1343.59V1166.23H1348.20V1168.31H1352.81V1176.52H1357.43V1181.10H1362.04V1185.05H1366.66V1187.34H1371.27V1189.00H1375.89V1190.15H1380.50V1191.29H1385.11V1192.23H1389.73V1193.58H1394.34V1194.72H1398.96V1196.18H1403.57V1196.80H1408.19V1197.32H1412.80V1199.30Z" fill="#cccccc" fill-opacity="0.6"/>
<path d="M1265.14 1199.30V1198.36H1269.76V1197.64H1274.37V1197.22H1278.99V1196.80H1283.60V1195.35H1288.21V1191.29H1292.83V1182.45H1297.44V1170.60H1302.06V1159.68H1306.67V1145.95H1311.29V1130.87H1315.90V1130.04H1320.51V1126.08H1325.13V1118.91H1329.74V1110.17H1334.36V1109.03H1338.97V1117.04H1343.59V1125.77H1348.20V1141.16H1352.81V1150.32H1357.43V1160.51H1362.04V1170.28H1366.66V1179.02H1371.27V1183.91H1375.89V1187.13H1380.50V1189.63H1385.11V1191.71H1389.73V1193.37H1394.34V1194.20H1398.96V1195.87H1403.57V1196.49H1408.19V1197.01H1412.80V1199.30Z" fill="#47c88e" fill-opacity="0.65"/>
<path d="M1251.3 991.3V1199.3H1412.8" fill="none" stroke="#686868" stroke-width="0.9"/>
<path d="M1251.3 1147.3h2.2M1251.3 1095.3h2.2M1251.3 1043.3h2.2M1251.3 991.3h2.2M1274.4 1199.3v-2.2M1297.4 1199.3v-2.2M1320.5 1199.3v-2.2M1343.6 1199.3v-2.2M1366.7 1199.3v-2.2M1389.7 1199.3v-2.2M1412.8 1199.3v-2.2" stroke="#686868" stroke-width="0.9" fill="none"/>
<text x="1247.4" y="997.3" font-size="17.0" text-anchor="end" fill="#222">0.2</text>
<text x="1247.4" y="1049.3" font-size="17.0" text-anchor="end" fill="#222">0.15</text>
<text x="1247.4" y="1101.3" font-size="17.0" text-anchor="end" fill="#222">0.1</text>
<text x="1247.4" y="1153.3" font-size="17.0" text-anchor="end" fill="#222">0.05</text>
<rect x="1237.3" y="1203.9" width="1.6" height="1.1" fill="#333"/><rect x="1240.9" y="1203.9" width="1.6" height="1.1" fill="#333"/>
<text transform="translate(1207.7 1095.3) rotate(-90)" font-size="19.5" text-anchor="middle" fill="#222" textLength="94">Probability</text>
<path d="M236.02 1436.30V1430.06H240.63V1421.22H245.23V1413.32H249.84V1396.16H254.45V1362.98H259.05V1301.52H263.66V1271.04H268.26V1294.44H272.87V1319.82H277.47V1335.11H282.08V1361.94H286.69V1388.67H291.29V1404.06H295.90V1408.95H300.50V1416.96H305.11V1427.15H309.71V1431.20H314.32V1432.35H318.93V1435.36H323.53V1436.30Z" fill="#cccccc" fill-opacity="0.6"/>
<path d="M236.02 1436.30V1434.95H240.63V1431.93H245.23V1418.62H249.84V1407.80H254.45V1388.98H259.05V1365.89H263.66V1336.88H268.26V1296.42H272.87V1236.31H277.47V1236.83H282.08V1306.09H286.69V1376.08H291.29V1413.21H295.90V1424.86H300.50V1432.87H305.11V1434.01H309.71V1434.95H314.32V1436.30ZM328.14 1436.30V1435.26H332.74V1435.26H337.35V1435.26H341.95V1435.26H346.56V1435.26H351.17V1436.30Z" fill="#47c88e" fill-opacity="0.65"/>
<path d="M217.6 1228.3V1436.3H378.8" fill="none" stroke="#686868" stroke-width="0.9"/>
<path d="M217.6 1384.3h2.2M217.6 1332.3h2.2M217.6 1280.3h2.2M217.6 1228.3h2.2M240.6 1436.3v-2.2M263.7 1436.3v-2.2M286.7 1436.3v-2.2M309.7 1436.3v-2.2M332.7 1436.3v-2.2M355.8 1436.3v-2.2M378.8 1436.3v-2.2" stroke="#686868" stroke-width="0.9" fill="none"/>
<text x="213.7" y="1234.3" font-size="17.0" text-anchor="end" fill="#222">0.2</text>
<text x="213.7" y="1286.3" font-size="17.0" text-anchor="end" fill="#222">0.15</text>
<text x="213.7" y="1338.3" font-size="17.0" text-anchor="end" fill="#222">0.1</text>
<text x="213.7" y="1390.3" font-size="17.0" text-anchor="end" fill="#222">0.05</text>
<rect x="203.6" y="1440.9" width="1.6" height="1.1" fill="#333"/><rect x="207.2" y="1440.9" width="1.6" height="1.1" fill="#333"/>
<text transform="translate(174.0 1332.3) rotate(-90)" font-size="19.5" text-anchor="middle" fill="#222" textLength="94">Probability</text>
<path d="M605.44 1430.30V1428.96H610.06V1427.03H614.67V1424.92H619.29V1419.83H623.90V1416.08H628.51V1408.11H633.13V1391.02H637.74V1379.87H642.36V1371.04H646.97V1357.49H651.59V1340.01H656.20V1316.29H660.81V1325.99H665.43V1339.24H670.04V1354.23H674.66V1372.29H679.27V1389.29H683.89V1403.31H688.50V1411.28H693.11V1418.68H697.73V1420.12H702.34V1419.45H706.96V1421.27H711.57V1426.84H716.19V1428.96H720.80V1430.30Z" fill="#cccccc" fill-opacity="0.6"/>
<path d="M577.76 1430.30V1429.72H582.37V1429.34H586.99V1428.96H591.60V1427.23H596.21V1426.27H600.83V1424.92H605.44V1421.18H610.06V1413.20H614.67V1401.20H619.29V1384.10H623.90V1362.20H628.51V1343.95H633.13V1333.77H637.74V1332.04H642.36V1342.32H646.97V1377.86H651.59V1385.25H656.20V1391.69H660.81V1393.03H665.43V1395.05H670.04V1397.55H674.66V1399.28H679.27V1401.00H683.89V1403.50H688.50V1405.04H693.11V1405.90H697.73V1427.03H702.34V1427.99H706.96V1428.96H711.57V1429.34H716.19V1429.34H720.80V1430.30Z" fill="#47c88e" fill-opacity="0.65"/>
<path d="M559.3 1238.2V1430.3H720.8" fill="none" stroke="#686868" stroke-width="0.9"/>
<path d="M559.3 1382.3h2.2M559.3 1334.2h2.2M559.3 1286.2h2.2M559.3 1238.2h2.2M582.4 1430.3v-2.2M605.4 1430.3v-2.2M628.5 1430.3v-2.2M651.6 1430.3v-2.2M674.7 1430.3v-2.2M697.7 1430.3v-2.2M720.8 1430.3v-2.2" stroke="#686868" stroke-width="0.9" fill="none"/>
<text x="555.4" y="1244.2" font-size="17.0" text-anchor="end" fill="#222">0.2</text>
<text x="555.4" y="1292.2" font-size="17.0" text-anchor="end" fill="#222">0.15</text>
<text x="555.4" y="1340.2" font-size="17.0" text-anchor="end" fill="#222">0.1</text>
<text x="555.4" y="1388.3" font-size="17.0" text-anchor="end" fill="#222">0.05</text>
<rect x="545.3" y="1434.9" width="1.6" height="1.1" fill="#333"/><rect x="548.9" y="1434.9" width="1.6" height="1.1" fill="#333"/>
<text transform="translate(515.7 1334.2) rotate(-90)" font-size="19.5" text-anchor="middle" fill="#222" textLength="94">Probability</text>
<path d="M929.37 1431.20V1430.26H933.99V1428.91H938.60V1427.25H943.21V1424.97H947.83V1418.94H952.44V1415.20H957.06V1406.89H961.67V1392.96H966.29V1370.00H970.90V1330.11H975.51V1302.16H980.13V1297.79H984.74V1295.19H989.36V1308.08H993.97V1340.60H998.59V1375.30H1003.20V1394.42H1007.81V1408.13H1012.43V1413.23H1017.04V1419.25H1021.66V1425.49H1026.27V1428.91H1030.89V1429.85H1035.50V1431.20Z" fill="#cccccc" fill-opacity="0.6"/>
<path d="M920.14 1431.20V1430.78H924.76V1428.91H929.37V1423.20H933.99V1419.25H938.60V1416.97H943.21V1417.80H947.83V1418.11H952.44V1414.06H957.06V1406.89H961.67V1388.08H966.29V1336.24H970.90V1240.54H975.51V1277.01H980.13V1282.10H984.74V1337.69H989.36V1371.98H993.97V1391.93H998.59V1405.02H1003.20V1413.23H1007.81V1418.11H1012.43V1422.06H1017.04V1421.85H1021.66V1423.20H1026.27V1424.97H1030.89V1424.65H1035.50V1426.94H1040.11V1426.94H1044.73V1429.85H1049.34V1430.68H1053.96V1430.68H1058.57V1430.68H1063.19V1430.68H1067.80V1431.20Z" fill="#47c88e" fill-opacity="0.65"/>
<path d="M906.3 1223.4V1431.2H1067.8" fill="none" stroke="#686868" stroke-width="0.9"/>
<path d="M906.3 1379.2h2.2M906.3 1327.3h2.2M906.3 1275.4h2.2M906.3 1223.4h2.2M929.4 1431.2v-2.2M952.4 1431.2v-2.2M975.5 1431.2v-2.2M998.6 1431.2v-2.2M1021.7 1431.2v-2.2M1044.7 1431.2v-2.2M1067.8 1431.2v-2.2" stroke="#686868" stroke-width="0.9" fill="none"/>
<text x="902.4" y="1229.4" font-size="17.0" text-anchor="end" fill="#222">0.2</text>
<text x="902.4" y="1281.4" font-size="17.0" text-anchor="end" fill="#222">0.15</text>
<text x="902.4" y="1333.3" font-size="17.0" text-anchor="end" fill="#222">0.1</text>
<text x="902.4" y="1385.2" font-size="17.0" text-anchor="end" fill="#222">0.05</text>
<rect x="892.3" y="1435.8" width="1.6" height="1.1" fill="#333"/><rect x="895.9" y="1435.8" width="1.6" height="1.1" fill="#333"/>
<text transform="translate(862.7 1327.3) rotate(-90)" font-size="19.5" text-anchor="middle" fill="#222" textLength="94">Probability</text>
<path d="M1274.37 1432.90V1432.07H1278.99V1430.92H1283.60V1428.32H1288.21V1426.03H1292.83V1420.93H1297.44V1416.98H1302.06V1414.69H1306.67V1412.40H1311.29V1402.93H1315.90V1393.26H1320.51V1381.81H1325.13V1369.01H1329.74V1360.27H1334.36V1357.98H1338.97V1355.38H1343.59V1351.01H1348.20V1338.21H1352.81V1349.14H1357.43V1360.17H1362.04V1373.07H1366.66V1387.85H1371.27V1401.27H1375.89V1411.78H1380.50V1420.31H1385.11V1423.74H1389.73V1424.58H1394.34V1424.37H1398.96V1426.03H1403.57V1430.30H1408.19V1431.44H1412.80V1432.90Z" fill="#cccccc" fill-opacity="0.6"/>
<path d="M1265.14 1432.90V1432.38H1269.76V1431.44H1274.37V1430.09H1278.99V1427.49H1283.60V1425.10H1288.21V1423.22H1292.83V1420.00H1297.44V1414.90H1302.06V1404.18H1306.67V1386.91H1311.29V1362.25H1315.90V1328.85H1320.51V1327.60H1325.13V1323.65H1329.74V1335.61H1334.36V1351.95H1338.97V1383.27H1343.59V1392.11H1348.20V1399.08H1352.81V1400.75H1357.43V1403.25H1362.04V1405.22H1366.66V1406.99H1371.27V1408.66H1375.89V1410.63H1380.50V1412.40H1385.11V1413.13H1389.73V1430.09H1394.34V1430.61H1398.96V1431.44H1403.57V1431.44H1408.19V1431.44H1412.80V1432.90Z" fill="#47c88e" fill-opacity="0.65"/>
<path d="M1251.3 1224.8V1432.9H1412.8" fill="none" stroke="#686868" stroke-width="0.9"/>
<path d="M1251.3 1380.9h2.2M1251.3 1328.8h2.2M1251.3 1276.8h2.2M1251.3 1224.8h2.2M1274.4 1432.9v-2.2M1297.4 1432.9v-2.2M1320.5 1432.9v-2.2M1343.6 1432.9v-2.2M1366.7 1432.9v-2.2M1389.7 1432.9v-2.2M1412.8 1432.9v-2.2" stroke="#686868" stroke-width="0.9" fill="none"/>
<text x="1247.4" y="1230.8" font-size="17.0" text-anchor="end" fill="#222">0.2</text>
<text x="1247.4" y="1282.8" font-size="17.0" text-anchor="end" fill="#222">0.15</text>
<text x="1247.4" y="1334.8" font-size="17.0" text-anchor="end" fill="#222">0.1</text>
<text x="1247.4" y="1386.9" font-size="17.0" text-anchor="end" fill="#222">0.05</text>
<rect x="1237.3" y="1437.5" width="1.6" height="1.1" fill="#333"/><rect x="1240.9" y="1437.5" width="1.6" height="1.1" fill="#333"/>
<text transform="translate(1207.7 1328.8) rotate(-90)" font-size="19.5" text-anchor="middle" fill="#222" textLength="94">Probability</text>
<path d="M222.21 1670.30V1669.26H226.81V1669.26H231.42V1668.01H236.02V1662.92H240.63V1650.96H245.23V1630.99H249.84V1618.72H254.45V1620.69H259.05V1616.95H263.66V1603.01H268.26V1609.88H272.87V1586.16H277.47V1568.28H282.08V1554.03H286.69V1533.23H291.29V1562.24H295.90V1603.43H300.50V1638.06H305.11V1654.91H309.71V1660.63H314.32V1667.08H318.93V1669.26H323.53V1668.22H328.14V1668.95H332.74V1670.30Z" fill="#cccccc" fill-opacity="0.6"/>
<path d="M226.81 1670.30V1669.26H231.42V1667.49H236.02V1657.72H240.63V1640.14H245.23V1615.28H249.84V1584.29H254.45V1559.23H259.05V1543.84H263.66V1525.74H268.26V1523.24H272.87V1552.36H277.47V1585.44H282.08V1615.91H286.69V1640.87H291.29V1650.54H295.90V1664.06H300.50V1667.08H305.11V1669.78H309.71V1670.30Z" fill="#47c88e" fill-opacity="0.65"/>
<path d="M217.6 1462.3V1670.3H378.8" fill="none" stroke="#686868" stroke-width="0.9"/>
<path d="M217.6 1618.3h2.2M217.6 1566.3h2.2M217.6 1514.3h2.2M217.6 1462.3h2.2M240.6 1670.3v-2.2M263.7 1670.3v-2.2M286.7 1670.3v-2.2M309.7 1670.3v-2.2M332.7 1670.3v-2.2M355.8 1670.3v-2.2M378.8 1670.3v-2.2" stroke="#686868" stroke-width="0.9" fill="none"/>
<text x="213.7" y="1468.3" font-size="17.0" text-anchor="end" fill="#222">0.2</text>
<text x="213.7" y="1520.3" font-size="17.0" text-anchor="end" fill="#222">0.15</text>
<text x="213.7" y="1572.3" font-size="17.0" text-anchor="end" fill="#222">0.1</text>
<text x="213.7" y="1624.3" font-size="17.0" text-anchor="end" fill="#222">0.05</text>
<text x="213.7" y="1676.3" font-size="17.0" text-anchor="end" fill="#222">0</text>
<text transform="translate(174.0 1566.3) rotate(-90)" font-size="19.5" text-anchor="middle" fill="#222" textLength="94">Probability</text>
<text transform="translate(228.0 1689.1) rotate(-45)" font-size="16" text-anchor="end" fill="#222">7</text>
<text transform="translate(251.0 1689.1) rotate(-45)" font-size="16" text-anchor="end" fill="#222">7.5</text>
<text transform="translate(274.1 1689.1) rotate(-45)" font-size="16" text-anchor="end" fill="#222">8</text>
<text transform="translate(297.1 1689.1) rotate(-45)" font-size="16" text-anchor="end" fill="#222">8.5</text>
<text transform="translate(320.1 1689.1) rotate(-45)" font-size="16" text-anchor="end" fill="#222">9</text>
<text transform="translate(343.1 1689.1) rotate(-45)" font-size="16" text-anchor="end" fill="#222">9.5</text>
<text transform="translate(366.2 1689.1) rotate(-45)" font-size="16" text-anchor="end" fill="#222">10</text>
<text transform="translate(389.2 1689.1) rotate(-45)" font-size="16" text-anchor="end" fill="#222">10.5</text>
<path d="M590.05 1662.10V1660.85H594.66V1659.69H599.27V1658.15H603.88V1656.03H608.49V1652.85H613.09V1646.97H617.70V1637.04H622.31V1619.88H626.92V1599.05H631.53V1595.87H636.14V1599.63H640.75V1587.68H645.35V1585.75H649.96V1584.98H654.57V1595.97H659.18V1607.83H663.79V1611.39H668.40V1616.41H673.01V1623.25H677.61V1629.23H682.22V1633.28H686.83V1636.65H691.44V1641.28H696.05V1646.39H700.66V1650.34H705.27V1652.85H709.87V1654.87H714.48V1656.32H719.09V1657.18H723.70V1662.10Z" fill="#cccccc" fill-opacity="0.6"/>
<path d="M567.01 1662.10V1661.71H571.62V1660.85H576.23V1659.69H580.83V1649.18H585.44V1645.23H590.05V1641.47H594.66V1638.39H599.27V1632.70H603.88V1626.14H608.49V1615.92H613.09V1601.37H617.70V1581.03H622.31V1539.19H626.92V1528.97H631.53V1560.88H636.14V1599.92H640.75V1620.74H645.35V1628.65H649.96V1634.63H654.57V1640.12H659.18V1643.49H663.79V1646.39H668.40V1650.15H673.01V1652.85H677.61V1655.45H682.22V1656.61H686.83V1657.76H691.44V1658.92H696.05V1659.50H700.66V1660.08H705.27V1660.65H709.87V1661.14H714.48V1661.14H719.09V1661.14H723.70V1662.10Z" fill="#47c88e" fill-opacity="0.65"/>
<path d="M562.4 1469.3V1662.1H723.7" fill="none" stroke="#686868" stroke-width="0.9"/>
<path d="M562.4 1613.9h2.2M562.4 1565.7h2.2M562.4 1517.5h2.2M562.4 1469.3h2.2M585.4 1662.1v-2.2M608.5 1662.1v-2.2M631.5 1662.1v-2.2M654.6 1662.1v-2.2M677.6 1662.1v-2.2M700.7 1662.1v-2.2M723.7 1662.1v-2.2" stroke="#686868" stroke-width="0.9" fill="none"/>
<text x="558.5" y="1475.3" font-size="17.0" text-anchor="end" fill="#222">0.2</text>
<text x="558.5" y="1523.5" font-size="17.0" text-anchor="end" fill="#222">0.15</text>
<text x="558.5" y="1571.7" font-size="17.0" text-anchor="end" fill="#222">0.1</text>
<text x="558.5" y="1619.9" font-size="17.0" text-anchor="end" fill="#222">0.05</text>
<text x="558.5" y="1668.1" font-size="17.0" text-anchor="end" fill="#222">0</text>
<text transform="translate(518.8 1565.7) rotate(-90)" font-size="19.5" text-anchor="middle" fill="#222" textLength="94">Probability</text>
<text transform="translate(572.8 1680.9) rotate(-45)" font-size="16" text-anchor="end" fill="#222">7</text>
<text transform="translate(595.8 1680.9) rotate(-45)" font-size="16" text-anchor="end" fill="#222">7.5</text>
<text transform="translate(618.9 1680.9) rotate(-45)" font-size="16" text-anchor="end" fill="#222">8</text>
<text transform="translate(641.9 1680.9) rotate(-45)" font-size="16" text-anchor="end" fill="#222">8.5</text>
<text transform="translate(665.0 1680.9) rotate(-45)" font-size="16" text-anchor="end" fill="#222">9</text>
<text transform="translate(688.0 1680.9) rotate(-45)" font-size="16" text-anchor="end" fill="#222">9.5</text>
<text transform="translate(711.1 1680.9) rotate(-45)" font-size="16" text-anchor="end" fill="#222">10</text>
<text transform="translate(734.1 1680.9) rotate(-45)" font-size="16" text-anchor="end" fill="#222">10.5</text>
<path d="M929.37 1669.20V1668.26H933.99V1667.12H938.60V1664.84H943.21V1658.91H947.83V1653.82H952.44V1638.03H957.06V1609.04H961.67V1582.86H966.29V1552.31H970.90V1531.84H975.51V1523.32H980.13V1525.92H984.74V1555.74H989.36V1597.72H993.97V1624.73H998.59V1644.16H1003.20V1658.71H1007.81V1664.11H1012.43V1666.91H1017.04V1668.06H1021.66V1669.20Z" fill="#cccccc" fill-opacity="0.6"/>
<path d="M915.53 1669.20V1668.78H920.14V1668.06H924.76V1666.39H929.37V1662.34H933.99V1658.39H938.60V1652.06H943.21V1643.02H947.83V1633.25H952.44V1619.22H957.06V1597.92H961.67V1571.22H966.29V1539.01H970.90V1531.84H975.51V1544.00H980.13V1585.98H984.74V1607.07H989.36V1619.22H993.97V1630.13H998.59V1643.02H1003.20V1653.20H1007.81V1658.19H1012.43V1660.89H1017.04V1662.97H1021.66V1664.84H1026.27V1665.98H1030.89V1667.85H1035.50V1668.47H1040.11V1668.47H1044.73V1669.20Z" fill="#47c88e" fill-opacity="0.65"/>
<path d="M906.3 1461.4V1669.2H1067.8" fill="none" stroke="#686868" stroke-width="0.9"/>
<path d="M906.3 1617.2h2.2M906.3 1565.3h2.2M906.3 1513.4h2.2M906.3 1461.4h2.2M929.4 1669.2v-2.2M952.4 1669.2v-2.2M975.5 1669.2v-2.2M998.6 1669.2v-2.2M1021.7 1669.2v-2.2M1044.7 1669.2v-2.2M1067.8 1669.2v-2.2" stroke="#686868" stroke-width="0.9" fill="none"/>
<text x="902.4" y="1467.4" font-size="17.0" text-anchor="end" fill="#222">0.2</text>
<text x="902.4" y="1519.4" font-size="17.0" text-anchor="end" fill="#222">0.15</text>
<text x="902.4" y="1571.3" font-size="17.0" text-anchor="end" fill="#222">0.1</text>
<text x="902.4" y="1623.2" font-size="17.0" text-anchor="end" fill="#222">0.05</text>
<text x="902.4" y="1675.2" font-size="17.0" text-anchor="end" fill="#222">0</text>
<text transform="translate(862.7 1565.3) rotate(-90)" font-size="19.5" text-anchor="middle" fill="#222" textLength="94">Probability</text>
<text transform="translate(916.7 1688.0) rotate(-45)" font-size="16" text-anchor="end" fill="#222">7</text>
<text transform="translate(939.8 1688.0) rotate(-45)" font-size="16" text-anchor="end" fill="#222">7.5</text>
<text transform="translate(962.8 1688.0) rotate(-45)" font-size="16" text-anchor="end" fill="#222">8</text>
<text transform="translate(985.9 1688.0) rotate(-45)" font-size="16" text-anchor="end" fill="#222">8.5</text>
<text transform="translate(1009.0 1688.0) rotate(-45)" font-size="16" text-anchor="end" fill="#222">9</text>
<text transform="translate(1032.1 1688.0) rotate(-45)" font-size="16" text-anchor="end" fill="#222">9.5</text>
<text transform="translate(1055.1 1688.0) rotate(-45)" font-size="16" text-anchor="end" fill="#222">10</text>
<text transform="translate(1078.2 1688.0) rotate(-45)" font-size="16" text-anchor="end" fill="#222">10.5</text>
<path d="M1274.37 1673.50V1672.36H1278.99V1670.07H1283.60V1667.78H1288.21V1666.11H1292.83V1663.82H1297.44V1659.25H1302.06V1651.86H1306.67V1639.27H1311.29V1618.98H1315.90V1597.13H1320.51V1591.92H1325.13V1596.29H1329.74V1590.78H1334.36V1593.90H1338.97V1596.71H1343.59V1609.41H1348.20V1621.58H1352.81V1625.95H1357.43V1631.05H1362.04V1637.29H1366.66V1643.33H1371.27V1646.34H1375.89V1650.09H1380.50V1654.35H1385.11V1659.25H1389.73V1662.89H1394.34V1665.18H1398.96V1667.05H1403.57V1668.40H1408.19V1669.55H1412.80V1673.50Z" fill="#cccccc" fill-opacity="0.6"/>
<path d="M1260.53 1673.50V1672.98H1265.14V1671.42H1269.76V1662.05H1274.37V1656.44H1278.99V1650.92H1283.60V1644.99H1288.21V1636.67H1292.83V1628.24H1297.44V1616.17H1302.06V1601.08H1306.67V1581.94H1311.29V1545.21H1315.90V1538.13H1320.51V1567.99H1325.13V1607.64H1329.74V1628.76H1334.36V1637.81H1338.97V1644.47H1343.59V1651.23H1348.20V1655.81H1352.81V1659.04H1357.43V1662.05H1362.04V1664.97H1366.66V1667.57H1371.27V1668.92H1375.89V1670.07H1380.50V1670.90H1385.11V1671.42H1389.73V1672.15H1394.34V1672.56H1398.96V1672.56H1403.57V1672.56H1408.19V1672.56H1412.80V1673.50Z" fill="#47c88e" fill-opacity="0.65"/>
<path d="M1251.3 1465.4V1673.5H1412.8" fill="none" stroke="#686868" stroke-width="0.9"/>
<path d="M1251.3 1621.5h2.2M1251.3 1569.5h2.2M1251.3 1517.4h2.2M1251.3 1465.4h2.2M1274.4 1673.5v-2.2M1297.4 1673.5v-2.2M1320.5 1673.5v-2.2M1343.6 1673.5v-2.2M1366.7 1673.5v-2.2M1389.7 1673.5v-2.2M1412.8 1673.5v-2.2" stroke="#686868" stroke-width="0.9" fill="none"/>
<text x="1247.4" y="1471.4" font-size="17.0" text-anchor="end" fill="#222">0.2</text>
<text x="1247.4" y="1523.4" font-size="17.0" text-anchor="end" fill="#222">0.15</text>
<text x="1247.4" y="1575.5" font-size="17.0" text-anchor="end" fill="#222">0.1</text>
<text x="1247.4" y="1627.5" font-size="17.0" text-anchor="end" fill="#222">0.05</text>
<text x="1247.4" y="1679.5" font-size="17.0" text-anchor="end" fill="#222">0</text>
<text transform="translate(1207.7 1569.5) rotate(-90)" font-size="19.5" text-anchor="middle" fill="#222" textLength="94">Probability</text>
<text transform="translate(1261.7 1692.3) rotate(-45)" font-size="16" text-anchor="end" fill="#222">7</text>
<text transform="translate(1284.8 1692.3) rotate(-45)" font-size="16" text-anchor="end" fill="#222">7.5</text>
<text transform="translate(1307.8 1692.3) rotate(-45)" font-size="16" text-anchor="end" fill="#222">8</text>
<text transform="translate(1330.9 1692.3) rotate(-45)" font-size="16" text-anchor="end" fill="#222">8.5</text>
<text transform="translate(1354.0 1692.3) rotate(-45)" font-size="16" text-anchor="end" fill="#222">9</text>
<text transform="translate(1377.1 1692.3) rotate(-45)" font-size="16" text-anchor="end" fill="#222">9.5</text>
<text transform="translate(1400.1 1692.3) rotate(-45)" font-size="16" text-anchor="end" fill="#222">10</text>
<text transform="translate(1423.2 1692.3) rotate(-45)" font-size="16" text-anchor="end" fill="#222">10.5</text>
<text x="283.7" y="1739.7" font-size="17.95" text-anchor="middle" fill="#222">Brillouin Shift [GHz]</text>
<text x="639.5" y="1737.7" font-size="17.95" text-anchor="middle" fill="#222">Brillouin Shift [GHz]</text>
<text x="986.0" y="1739.3" font-size="17.95" text-anchor="middle" fill="#222">Brillouin Shift [GHz]</text>
<text x="1355.5" y="1737.7" font-size="17.95" text-anchor="middle" fill="#222">Brillouin Shift [GHz]</text>
<text x="347.8" y="1840.8" font-size="27.7" font-weight="bold" text-anchor="middle">Urothelium</text>
<text x="645.3" y="1840.8" font-size="27.6" font-weight="bold" text-anchor="middle">Lamina propria</text>
<text x="938.6" y="1840.8" font-size="27.9" font-weight="bold" text-anchor="middle">Muscle</text>
<text x="1102.3" y="1903.0" font-size="20.8" font-weight="bold" text-anchor="end" fill="#808080">Control</text>
<text x="1102.3" y="1927.0" font-size="20.8" font-weight="bold" text-anchor="end" fill="#3cb878">X-ray</text>
<line x1="490.8" y1="1812.2" x2="490.8" y2="2286" stroke="#000" stroke-width="3.9" stroke-dasharray="15 12.4"/>
<line x1="798.2" y1="1820" x2="800.8" y2="2293" stroke="#000" stroke-width="3.9" stroke-dasharray="15 12.4"/>
<rect x="213.3" y="2215.3" width="35.7" height="72.3" fill="#f2f2f2" stroke="#111" stroke-width="1.25"/>
<rect x="249.0" y="2127.0" width="35.7" height="160.6" fill="#47c98d" stroke="#111" stroke-width="1.25"/>
<path d="M231.2 2199.5V2231.9M227.8 2199.5h6.6M227.8 2231.9h6.6" stroke="#000" stroke-width="1.8" fill="none"/>
<path d="M266.9 2111.3V2143.2M263.6 2111.3h6.6M263.6 2143.2h6.6" stroke="#000" stroke-width="1.8" fill="none"/>
<rect x="302.6" y="2128.0" width="35.7" height="159.6" fill="#f2f2f2" stroke="#111" stroke-width="1.25"/>
<rect x="338.3" y="2145.7" width="35.7" height="141.9" fill="#47c98d" stroke="#111" stroke-width="1.25"/>
<path d="M320.5 2112.3V2144.7M317.2 2112.3h6.6M317.2 2144.7h6.6" stroke="#000" stroke-width="1.8" fill="none"/>
<path d="M356.2 2135.6V2155.9M352.9 2135.6h6.6M352.9 2155.9h6.6" stroke="#000" stroke-width="1.8" fill="none"/>
<rect x="392.0" y="2126.0" width="35.7" height="161.6" fill="#f2f2f2" stroke="#111" stroke-width="1.25"/>
<rect x="427.7" y="2189.1" width="35.7" height="98.5" fill="#47c98d" stroke="#111" stroke-width="1.25"/>
<path d="M409.9 2099.2V2151.8M406.6 2099.2h6.6M406.6 2151.8h6.6" stroke="#000" stroke-width="1.8" fill="none"/>
<path d="M445.6 2179.7V2198.4M442.2 2179.7h6.6M442.2 2198.4h6.6" stroke="#000" stroke-width="1.8" fill="none"/>
<rect x="517.2" y="2081.3" width="35.7" height="206.3" fill="#f2f2f2" stroke="#111" stroke-width="1.25"/>
<rect x="552.9" y="2014.9" width="35.7" height="272.7" fill="#47c98d" stroke="#111" stroke-width="1.25"/>
<path d="M535.1 2043.4V2119.9M531.8 2043.4h6.6M531.8 2119.9h6.6" stroke="#000" stroke-width="1.8" fill="none"/>
<path d="M570.8 1997.3V2033.3M567.5 1997.3h6.6M567.5 2033.3h6.6" stroke="#000" stroke-width="1.8" fill="none"/>
<rect x="606.6" y="1963.3" width="35.7" height="324.3" fill="#f2f2f2" stroke="#111" stroke-width="1.25"/>
<rect x="642.3" y="2038.3" width="35.7" height="249.3" fill="#47c98d" stroke="#111" stroke-width="1.25"/>
<path d="M624.5 1947.7V1979.1M621.2 1947.7h6.6M621.2 1979.1h6.6" stroke="#000" stroke-width="1.8" fill="none"/>
<path d="M660.1 2020.6V2056.1M656.9 2020.6h6.6M656.9 2056.1h6.6" stroke="#000" stroke-width="1.8" fill="none"/>
<rect x="695.8" y="2007.4" width="35.7" height="280.2" fill="#f2f2f2" stroke="#111" stroke-width="1.25"/>
<rect x="731.5" y="2109.9" width="35.7" height="177.7" fill="#47c98d" stroke="#111" stroke-width="1.25"/>
<path d="M713.6 1985.2V2029.7M710.4 1985.2h6.6M710.4 2029.7h6.6" stroke="#000" stroke-width="1.8" fill="none"/>
<path d="M749.3 2098.1V2121.9M746.0 2098.1h6.6M746.0 2121.9h6.6" stroke="#000" stroke-width="1.8" fill="none"/>
<rect x="821.0" y="2145.7" width="35.7" height="141.9" fill="#f2f2f2" stroke="#111" stroke-width="1.25"/>
<rect x="856.7" y="2080.7" width="35.7" height="206.9" fill="#47c98d" stroke="#111" stroke-width="1.25"/>
<path d="M838.9 2138.7V2152.9M835.6 2138.7h6.6M835.6 2152.9h6.6" stroke="#000" stroke-width="1.8" fill="none"/>
<path d="M874.5 2056.6V2105.2M871.2 2056.6h6.6M871.2 2105.2h6.6" stroke="#000" stroke-width="1.8" fill="none"/>
<rect x="910.7" y="2042.9" width="35.7" height="244.7" fill="#f2f2f2" stroke="#111" stroke-width="1.25"/>
<rect x="946.4" y="2092.5" width="35.7" height="195.1" fill="#47c98d" stroke="#111" stroke-width="1.25"/>
<path d="M928.6 2025.2V2061.2M925.3 2025.2h6.6M925.3 2061.2h6.6" stroke="#000" stroke-width="1.8" fill="none"/>
<path d="M964.2 2077.4V2107.8M961.0 2077.4h6.6M961.0 2107.8h6.6" stroke="#000" stroke-width="1.8" fill="none"/>
<rect x="999.9" y="2078.3" width="35.7" height="209.3" fill="#f2f2f2" stroke="#111" stroke-width="1.25"/>
<rect x="1035.6" y="2108.7" width="35.7" height="178.9" fill="#47c98d" stroke="#111" stroke-width="1.25"/>
<path d="M1017.8 2066.7V2089.5M1014.5 2066.7h6.6M1014.5 2089.5h6.6" stroke="#000" stroke-width="1.8" fill="none"/>
<path d="M1053.5 2092.6V2126.0M1050.2 2092.6h6.6M1050.2 2126.0h6.6" stroke="#000" stroke-width="1.8" fill="none"/>
<path d="M198.6 1893.5V2287.6H1086.5" fill="none" stroke="#333" stroke-width="1.1"/>
<path d="M198.6 2287.6h-7.5M198.6 2267.9h-3.7M198.6 2248.2h-3.7M198.6 2228.5h-3.7M198.6 2208.8h-3.7M198.6 2189.1h-7.5M198.6 2169.4h-3.7M198.6 2149.7h-3.7M198.6 2130.0h-3.7M198.6 2110.3h-3.7M198.6 2090.5h-7.5M198.6 2070.8h-3.7M198.6 2051.1h-3.7M198.6 2031.4h-3.7M198.6 2011.7h-3.7M198.6 1992.0h-7.5M198.6 1972.3h-3.7M198.6 1952.6h-3.7M198.6 1932.9h-3.7M198.6 1913.2h-3.7M198.6 1893.5h-7.5M249.0 2287.6v8.5M338.3 2287.6v8.5M427.7 2287.6v8.5M552.9 2287.6v8.5M642.3 2287.6v8.5M731.5 2287.6v8.5M856.7 2287.6v8.5M946.4 2287.6v8.5M1035.6 2287.6v8.5" stroke="#333" stroke-width="1.1" fill="none"/>
<text x="181.8" y="1901.9" font-size="23.3" text-anchor="end" fill="#222">9.5</text>
<text x="181.8" y="2000.4" font-size="23.3" text-anchor="end" fill="#222">9</text>
<text x="181.8" y="2098.9" font-size="23.3" text-anchor="end" fill="#222">8.5</text>
<text x="181.8" y="2197.5" font-size="23.3" text-anchor="end" fill="#222">8</text>
<text x="181.8" y="2296.0" font-size="23.3" text-anchor="end" fill="#222">7.5</text>
<text x="249.0" y="2325.0" font-size="23.3" text-anchor="middle" fill="#222">2</text>
<text x="338.3" y="2325.0" font-size="23.3" text-anchor="middle" fill="#222">4</text>
<text x="427.7" y="2325.0" font-size="23.3" text-anchor="middle" fill="#222">6</text>
<text x="552.9" y="2325.0" font-size="23.3" text-anchor="middle" fill="#222">2</text>
<text x="642.3" y="2325.0" font-size="23.3" text-anchor="middle" fill="#222">4</text>
<text x="731.5" y="2325.0" font-size="23.3" text-anchor="middle" fill="#222">6</text>
<text x="856.7" y="2325.0" font-size="23.3" text-anchor="middle" fill="#222">2</text>
<text x="946.4" y="2325.0" font-size="23.3" text-anchor="middle" fill="#222">4</text>
<text x="1035.6" y="2325.0" font-size="23.3" text-anchor="middle" fill="#222">6</text>
<text transform="translate(138.8 2091.5) rotate(-90)" font-size="25.0" text-anchor="middle" fill="#222">Brillouin shift [GHz]</text>
<text x="636.3" y="2356.5" font-size="25.95" text-anchor="middle" fill="#222">Time point (month)</text>
<path d="M229.5 2177.7V2078.9H262.4V2100.7" fill="none" stroke="#111" stroke-width="1.3"/>
<path d="M268.5 2103.0V2033.3H454.4V2149.8" fill="none" stroke="#111" stroke-width="1.3"/>
<path d="M407.8 2091.6V2069.3H438.7V2137.2" fill="none" stroke="#111" stroke-width="1.3"/>
<path d="M570.4 1983.7V1876.3H768.0V2088.0" fill="none" stroke="#111" stroke-width="1.3"/>
<path d="M621.6 1937.0V1911.7H654.0V2005.4" fill="none" stroke="#111" stroke-width="1.3"/>
<path d="M662.6 2005.4V1913.7H754.3V2084.0" fill="none" stroke="#111" stroke-width="1.3"/>
<path d="M714.8 1972.5V1953.8H742.7V2086.5" fill="none" stroke="#111" stroke-width="1.3"/>
<text x="244.2" y="2084.6" font-size="28.5" font-weight="bold" text-anchor="middle">**</text>
<text x="424.8" y="2074.6" font-size="28.5" font-weight="bold" text-anchor="middle">*</text>
<text x="637.3" y="1916.9" font-size="28.5" font-weight="bold" text-anchor="middle">**</text>
<text x="728.3" y="1958.6" font-size="28.5" font-weight="bold" text-anchor="middle">***</text>
<circle cx="353.0" cy="2024.7" r="3.7" fill="none" stroke="#000" stroke-width="2.4"/>
<circle cx="667.2" cy="1867.3" r="2.9" fill="none" stroke="#000" stroke-width="2"/>
<circle cx="677.6" cy="1867.3" r="2.9" fill="none" stroke="#000" stroke-width="2"/>
<circle cx="707.2" cy="1903.3" r="3.7" fill="none" stroke="#000" stroke-width="2.4"/>
</svg>
</body></html>
